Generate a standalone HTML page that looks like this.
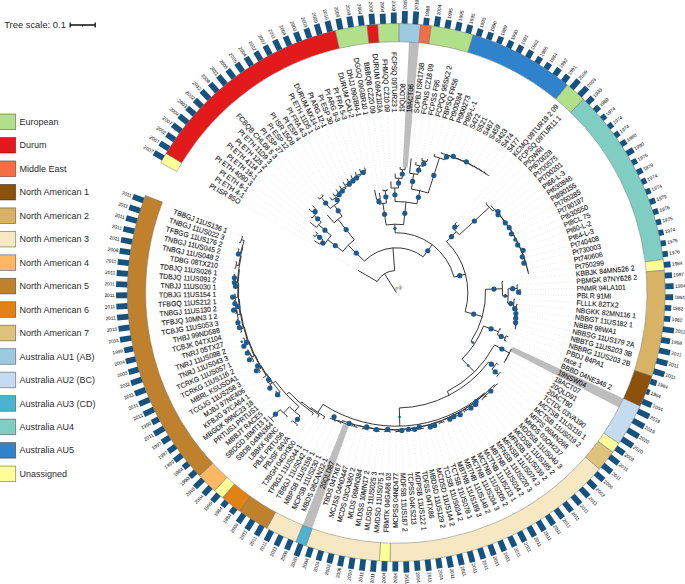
<!DOCTYPE html><html><head><meta charset="utf-8"><style>html,body{margin:0;padding:0;background:#fff;width:685px;height:584px;overflow:hidden}svg{display:block}</style></head><body><svg width="685" height="584" viewBox="0 0 685 584">
<path d="M356.90,269.75L241.71,203.25M313.03,239.88L245.40,197.15M311.90,234.33L249.33,191.20M314.29,231.01L253.49,185.42M309.06,221.47L257.87,179.80M309.71,216.06L262.48,174.37M307.77,207.83L267.31,169.12M311.22,204.36L272.33,164.07M326.12,213.73L277.56,159.22M317.26,196.31L282.97,154.59M321.16,193.23L288.57,150.18M329.18,196.06L294.33,145.99M332.22,192.11L300.26,142.04M335.47,188.25L306.35,138.32M338.93,184.49L312.57,134.86M342.60,180.84L318.93,131.64M346.46,177.32L325.41,128.68M350.52,173.93L332.01,125.98M354.77,170.68L338.71,123.55M359.21,167.59L345.50,121.38M364.23,166.21L352.37,119.49M374.23,188.31L359.31,117.88M379.08,191.46L366.31,116.54M382.74,187.88L373.35,115.48M386.93,187.42L380.44,114.71M390.77,179.84L387.55,114.21M395.20,172.01L394.67,114.01M400.21,165.56L401.80,114.08M405.27,165.82L408.91,114.45M411.37,156.83L416.01,115.09M416.33,160.51L423.08,116.02M422.53,156.51L430.10,117.23M427.93,157.66L437.07,118.72M435.03,152.77L443.97,120.48M441.67,151.00L450.80,122.52M447.39,152.64L457.54,124.83M453.04,154.51L464.19,127.41M458.63,156.61L470.72,130.25M464.14,158.94L477.14,133.35M469.56,161.49L483.43,136.71M474.89,164.27L489.57,140.31M480.11,167.26L495.58,144.15M485.22,170.46L501.42,148.23M490.02,174.11L507.09,152.54M457.54,221.19L512.59,157.08M460.34,223.69L517.90,161.83M487.88,201.65L523.02,166.79M492.69,204.23L527.94,171.94M496.40,207.92L532.65,177.30M499.97,211.77L537.14,182.83M503.40,215.77L541.40,188.54M506.67,219.91L545.43,194.41M509.78,224.19L549.23,200.44M512.72,228.61L552.78,206.62M515.49,233.15L556.09,212.94M518.08,237.81L559.14,219.38M520.49,242.59L561.92,225.93M522.72,247.47L564.45,232.60M524.75,252.44L566.71,239.36M526.58,257.51L568.69,246.20M528.22,262.66L570.40,253.12M529.65,267.89L571.84,260.10M530.52,273.23L572.99,267.13M504.73,281.33L573.86,274.21M519.36,284.77L574.45,281.31M522.07,289.63L574.75,288.43M522.08,294.65L574.77,295.55M516.40,299.36L574.51,302.68M519.02,304.44L573.96,309.78M519.24,309.43L573.13,316.86M519.25,314.47L572.02,323.90M519.06,319.53L570.62,330.89M518.66,324.61L568.95,337.81M517.28,329.47L567.01,344.67M502.49,329.65L564.79,351.44M509.76,337.35L562.30,358.12M507.88,341.84L559.55,364.69M513.18,349.87L556.54,371.15M510.97,354.58L553.27,377.48M508.49,359.16L549.75,383.68M505.74,363.59L545.99,389.74M499.55,365.59L541.99,395.63M501.78,373.68L537.76,401.37M498.46,377.82L533.30,406.93M498.90,385.39L528.62,412.30M495.11,389.41L523.74,417.49M491.59,393.74L518.65,422.48M487.67,397.68L513.36,427.26M483.40,401.25L507.89,431.82M478.83,404.42L502.24,436.16M474.30,407.63L496.42,440.28M469.81,410.93L490.44,444.16M465.03,413.77L484.31,447.79M460.42,416.97L478.04,451.18M455.53,419.71L471.65,454.32M450.40,421.97L465.13,457.20M445.10,423.77L458.50,459.81M439.82,425.62L451.77,462.16M434.56,427.56L444.95,464.24M429.14,428.98L438.06,466.05M423.73,430.51L431.10,467.58M418.20,431.50L424.08,468.82M412.67,432.59L417.02,469.79M407.07,433.13L409.93,470.48M401.46,433.78L402.81,470.88M395.82,433.87L395.69,471.00M390.16,434.07L388.56,470.83M384.51,433.71L381.45,470.38M378.85,433.45L374.36,469.65M373.23,432.64L367.31,468.63M367.59,431.94L360.30,467.33M362.05,430.68L353.35,465.76M356.47,429.52L346.47,463.90M351.03,427.82L339.67,461.78M345.42,426.56L332.96,459.38M339.87,424.97L326.35,456.72M334.50,422.89L319.85,453.80M329.35,420.32L313.47,450.62M322.70,420.32L307.23,447.19M316.85,418.55L301.12,443.51M311.03,416.52L295.17,439.59M295.67,427.03L289.38,435.44M290.38,422.90L283.76,431.05M285.39,418.42L278.32,426.45M271.69,423.08L273.07,421.64M266.57,418.00L268.01,416.61M278.30,397.87L263.16,411.39M274.19,393.08L258.52,405.98M269.71,388.55L254.10,400.39M265.98,383.42L249.91,394.63M261.87,378.52L245.95,388.71M257.94,373.44L242.23,382.63M254.82,367.85L238.75,376.41M251.02,362.58L235.53,370.05M248.06,356.84L232.56,363.57M245.61,350.88L229.85,356.98M243.31,344.85L227.41,350.29M241.34,338.70L225.24,343.50M238.94,332.65L223.34,336.63M237.46,326.34L221.72,329.69M235.25,320.14L220.37,322.69M233.98,313.73L219.31,315.65M233.26,307.23L218.52,308.56M232.71,300.72L218.02,301.46M232.51,294.18L217.81,294.33M231.57,287.61L217.88,287.21M231.60,281.02L218.23,280.09M232.19,274.46L218.87,272.99M232.94,267.90L219.79,265.92M234.05,261.40L220.99,258.90M234.74,254.79L222.47,251.93M236.38,248.37L224.23,245.02M237.88,241.90L226.26,238.19M240.03,235.62L228.56,231.45" stroke="#cccccc" stroke-width="0.6" stroke-dasharray="0.6,2.0" fill="none"/>
<path d="M402.67,167.16L409.02,42.12A250.7,250.7 0 0 1 419.00,42.83L407.67,167.52Z" fill="#bdbdbd"/>
<path d="M512.94,346.89L623.51,398.45A250.7,250.7 0 0 1 619.10,407.44L510.68,351.50Z" fill="#bdbdbd"/>
<path d="M348.61,426.13L312.04,528.61A250.7,250.7 0 0 1 302.68,525.06L343.31,424.12Z" fill="#bdbdbd"/>
<path d="M160.70,162.68A269.0,269.0 0 0 1 166.07,153.38L181.73,162.84A250.7,250.7 0 0 0 176.73,171.51Z" fill="#FFFF99" stroke="#6b6b6b" stroke-width="0.45"/>
<path d="M166.07,153.38A269.0,269.0 0 0 1 335.31,30.51L339.46,48.33A250.7,250.7 0 0 0 181.73,162.84Z" fill="#E31A1C" stroke="#6b6b6b" stroke-width="0.45"/>
<path d="M335.31,30.51A269.0,269.0 0 0 1 367.05,25.09L369.04,43.29A250.7,250.7 0 0 0 339.46,48.33Z" fill="#B2DF8A" stroke="#6b6b6b" stroke-width="0.45"/>
<path d="M367.05,25.09A269.0,269.0 0 0 1 377.75,24.14L379.01,42.40A250.7,250.7 0 0 0 369.04,43.29Z" fill="#E31A1C" stroke="#6b6b6b" stroke-width="0.45"/>
<path d="M377.75,24.14A269.0,269.0 0 0 1 399.22,23.52L399.02,41.81A250.7,250.7 0 0 0 379.01,42.40Z" fill="#B2DF8A" stroke="#6b6b6b" stroke-width="0.45"/>
<path d="M399.22,23.52A269.0,269.0 0 0 1 420.66,24.61L419.00,42.83A250.7,250.7 0 0 0 399.02,41.81Z" fill="#9ECAE1" stroke="#6b6b6b" stroke-width="0.45"/>
<path d="M420.66,24.61A269.0,269.0 0 0 1 431.34,25.79L428.95,43.94A250.7,250.7 0 0 0 419.00,42.83Z" fill="#F46D43" stroke="#6b6b6b" stroke-width="0.45"/>
<path d="M431.34,25.79A269.0,269.0 0 0 1 473.30,34.76L468.06,52.29A250.7,250.7 0 0 0 428.95,43.94Z" fill="#B2DF8A" stroke="#6b6b6b" stroke-width="0.45"/>
<path d="M473.30,34.76A269.0,269.0 0 0 1 567.44,84.96L555.80,99.08A250.7,250.7 0 0 0 468.06,52.29Z" fill="#2E83CC" stroke="#6b6b6b" stroke-width="0.45"/>
<path d="M567.44,84.96A269.0,269.0 0 0 1 583.45,99.27L570.72,112.42A250.7,250.7 0 0 0 555.80,99.08Z" fill="#B2DF8A" stroke="#6b6b6b" stroke-width="0.45"/>
<path d="M583.45,99.27A269.0,269.0 0 0 1 663.28,259.60L645.12,261.83A250.7,250.7 0 0 0 570.72,112.42Z" fill="#80CDC1" stroke="#6b6b6b" stroke-width="0.45"/>
<path d="M663.28,259.60A269.0,269.0 0 0 1 664.38,270.28L646.14,271.79A250.7,250.7 0 0 0 645.12,261.83Z" fill="#FFFF99" stroke="#6b6b6b" stroke-width="0.45"/>
<path d="M664.38,270.28A269.0,269.0 0 0 1 651.93,376.24L634.54,370.54A250.7,250.7 0 0 0 646.14,271.79Z" fill="#D8B365" stroke="#6b6b6b" stroke-width="0.45"/>
<path d="M651.93,376.24A269.0,269.0 0 0 1 640.10,406.18L623.51,398.45A250.7,250.7 0 0 0 634.54,370.54Z" fill="#8C510A" stroke="#6b6b6b" stroke-width="0.45"/>
<path d="M640.10,406.18A269.0,269.0 0 0 1 618.92,443.51L603.77,433.23A250.7,250.7 0 0 0 623.51,398.45Z" fill="#C6DBEF" stroke="#6b6b6b" stroke-width="0.45"/>
<path d="M618.92,443.51A269.0,269.0 0 0 1 612.71,452.27L597.99,441.40A250.7,250.7 0 0 0 603.77,433.23Z" fill="#FFFF99" stroke="#6b6b6b" stroke-width="0.45"/>
<path d="M612.71,452.27A269.0,269.0 0 0 1 599.28,469.03L585.47,457.02A250.7,250.7 0 0 0 597.99,441.40Z" fill="#DFC27D" stroke="#6b6b6b" stroke-width="0.45"/>
<path d="M599.28,469.03A269.0,269.0 0 0 1 390.01,561.43L390.44,543.13A250.7,250.7 0 0 0 585.47,457.02Z" fill="#F6E8C3" stroke="#6b6b6b" stroke-width="0.45"/>
<path d="M390.01,561.43A269.0,269.0 0 0 1 379.28,560.96L380.44,542.70A250.7,250.7 0 0 0 390.44,543.13Z" fill="#FFFF99" stroke="#6b6b6b" stroke-width="0.45"/>
<path d="M379.28,560.96A269.0,269.0 0 0 1 305.88,545.85L312.04,528.61A250.7,250.7 0 0 0 380.44,542.70Z" fill="#F6E8C3" stroke="#6b6b6b" stroke-width="0.45"/>
<path d="M305.88,545.85A269.0,269.0 0 0 1 295.84,542.04L302.68,525.06A250.7,250.7 0 0 0 312.04,528.61Z" fill="#4EB3D3" stroke="#6b6b6b" stroke-width="0.45"/>
<path d="M295.84,542.04A269.0,269.0 0 0 1 266.75,528.25L275.56,512.21A250.7,250.7 0 0 0 302.68,525.06Z" fill="#F6E8C3" stroke="#6b6b6b" stroke-width="0.45"/>
<path d="M266.75,528.25A269.0,269.0 0 0 1 239.50,511.08L250.17,496.21A250.7,250.7 0 0 0 275.56,512.21Z" fill="#BF812D" stroke="#6b6b6b" stroke-width="0.45"/>
<path d="M239.50,511.08A269.0,269.0 0 0 1 222.57,497.87L234.39,483.90A250.7,250.7 0 0 0 250.17,496.21Z" fill="#E08214" stroke="#6b6b6b" stroke-width="0.45"/>
<path d="M222.57,497.87A269.0,269.0 0 0 1 214.51,490.78L226.88,477.29A250.7,250.7 0 0 0 234.39,483.90Z" fill="#FFFF99" stroke="#6b6b6b" stroke-width="0.45"/>
<path d="M214.51,490.78A269.0,269.0 0 0 1 199.27,475.64L212.68,463.18A250.7,250.7 0 0 0 226.88,477.29Z" fill="#FDB863" stroke="#6b6b6b" stroke-width="0.45"/>
<path d="M199.27,475.64A269.0,269.0 0 0 1 145.41,195.47L162.48,202.07A250.7,250.7 0 0 0 212.68,463.18Z" fill="#BF812D" stroke="#6b6b6b" stroke-width="0.45"/>
<g fill="#17527f"><rect transform="rotate(210.000 396.3 292.5)" x="665.30" y="289.60" width="10.61" height="5.8"/><rect transform="rotate(212.288 396.3 292.5)" x="665.30" y="289.60" width="10.61" height="5.8"/><rect transform="rotate(214.575 396.3 292.5)" x="665.30" y="289.60" width="9.76" height="5.8"/><rect transform="rotate(216.863 396.3 292.5)" x="665.30" y="289.60" width="10.61" height="5.8"/><rect transform="rotate(219.150 396.3 292.5)" x="665.30" y="289.60" width="10.95" height="5.8"/><rect transform="rotate(221.438 396.3 292.5)" x="665.30" y="289.60" width="9.93" height="5.8"/><rect transform="rotate(223.725 396.3 292.5)" x="665.30" y="289.60" width="9.76" height="5.8"/><rect transform="rotate(226.013 396.3 292.5)" x="665.30" y="289.60" width="11.46" height="5.8"/><rect transform="rotate(228.301 396.3 292.5)" x="665.30" y="289.60" width="10.78" height="5.8"/><rect transform="rotate(230.588 396.3 292.5)" x="665.30" y="289.60" width="11.29" height="5.8"/><rect transform="rotate(232.876 396.3 292.5)" x="665.30" y="289.60" width="10.27" height="5.8"/><rect transform="rotate(235.163 396.3 292.5)" x="665.30" y="289.60" width="10.27" height="5.8"/><rect transform="rotate(237.451 396.3 292.5)" x="665.30" y="289.60" width="10.10" height="5.8"/><rect transform="rotate(239.739 396.3 292.5)" x="665.30" y="289.60" width="9.76" height="5.8"/><rect transform="rotate(242.026 396.3 292.5)" x="665.30" y="289.60" width="10.61" height="5.8"/><rect transform="rotate(244.314 396.3 292.5)" x="665.30" y="289.60" width="11.29" height="5.8"/><rect transform="rotate(246.601 396.3 292.5)" x="665.30" y="289.60" width="10.10" height="5.8"/><rect transform="rotate(248.889 396.3 292.5)" x="665.30" y="289.60" width="9.93" height="5.8"/><rect transform="rotate(251.176 396.3 292.5)" x="665.30" y="289.60" width="9.93" height="5.8"/><rect transform="rotate(253.464 396.3 292.5)" x="665.30" y="289.60" width="10.95" height="5.8"/><rect transform="rotate(255.752 396.3 292.5)" x="665.30" y="289.60" width="11.12" height="5.8"/><rect transform="rotate(258.039 396.3 292.5)" x="665.30" y="289.60" width="10.95" height="5.8"/><rect transform="rotate(260.327 396.3 292.5)" x="665.30" y="289.60" width="10.95" height="5.8"/><rect transform="rotate(262.614 396.3 292.5)" x="665.30" y="289.60" width="10.10" height="5.8"/><rect transform="rotate(264.902 396.3 292.5)" x="665.30" y="289.60" width="10.95" height="5.8"/><rect transform="rotate(267.190 396.3 292.5)" x="665.30" y="289.60" width="10.10" height="5.8"/><rect transform="rotate(269.477 396.3 292.5)" x="665.30" y="289.60" width="10.95" height="5.8"/><rect transform="rotate(271.765 396.3 292.5)" x="665.30" y="289.60" width="12.65" height="5.8"/><rect transform="rotate(274.052 396.3 292.5)" x="665.30" y="289.60" width="12.65" height="5.8"/><rect transform="rotate(276.340 396.3 292.5)" x="665.30" y="289.60" width="7.38" height="5.8"/><rect transform="rotate(278.627 396.3 292.5)" x="665.30" y="289.60" width="10.10" height="5.8"/><rect transform="rotate(280.915 396.3 292.5)" x="665.30" y="289.60" width="8.57" height="5.8"/><rect transform="rotate(283.203 396.3 292.5)" x="665.30" y="289.60" width="8.57" height="5.8"/><rect transform="rotate(285.490 396.3 292.5)" x="665.30" y="289.60" width="8.57" height="5.8"/><rect transform="rotate(287.778 396.3 292.5)" x="665.30" y="289.60" width="7.72" height="5.8"/><rect transform="rotate(290.065 396.3 292.5)" x="665.30" y="289.60" width="7.72" height="5.8"/><rect transform="rotate(292.353 396.3 292.5)" x="665.30" y="289.60" width="7.55" height="5.8"/><rect transform="rotate(294.641 396.3 292.5)" x="665.30" y="289.60" width="7.72" height="5.8"/><rect transform="rotate(296.928 396.3 292.5)" x="665.30" y="289.60" width="7.89" height="5.8"/><rect transform="rotate(299.216 396.3 292.5)" x="665.30" y="289.60" width="8.06" height="5.8"/><rect transform="rotate(301.503 396.3 292.5)" x="665.30" y="289.60" width="7.04" height="5.8"/><rect transform="rotate(303.791 396.3 292.5)" x="665.30" y="289.60" width="6.70" height="5.8"/><rect transform="rotate(306.078 396.3 292.5)" x="665.30" y="289.60" width="8.06" height="5.8"/><rect transform="rotate(308.366 396.3 292.5)" x="665.30" y="289.60" width="7.89" height="5.8"/><rect transform="rotate(310.654 396.3 292.5)" x="665.30" y="289.60" width="10.95" height="5.8"/><rect transform="rotate(312.941 396.3 292.5)" x="665.30" y="289.60" width="10.95" height="5.8"/><rect transform="rotate(315.229 396.3 292.5)" x="665.30" y="289.60" width="7.72" height="5.8"/><rect transform="rotate(317.516 396.3 292.5)" x="665.30" y="289.60" width="6.02" height="5.8"/><rect transform="rotate(319.804 396.3 292.5)" x="665.30" y="289.60" width="5.00" height="5.8"/><rect transform="rotate(322.092 396.3 292.5)" x="665.30" y="289.60" width="5.00" height="5.8"/><rect transform="rotate(324.379 396.3 292.5)" x="665.30" y="289.60" width="5.00" height="5.8"/><rect transform="rotate(326.667 396.3 292.5)" x="665.30" y="289.60" width="6.02" height="5.8"/><rect transform="rotate(328.954 396.3 292.5)" x="665.30" y="289.60" width="7.72" height="5.8"/><rect transform="rotate(331.242 396.3 292.5)" x="665.30" y="289.60" width="5.34" height="5.8"/><rect transform="rotate(333.529 396.3 292.5)" x="665.30" y="289.60" width="5.85" height="5.8"/><rect transform="rotate(335.817 396.3 292.5)" x="665.30" y="289.60" width="5.00" height="5.8"/><rect transform="rotate(338.105 396.3 292.5)" x="665.30" y="289.60" width="5.00" height="5.8"/><rect transform="rotate(340.392 396.3 292.5)" x="665.30" y="289.60" width="5.85" height="5.8"/><rect transform="rotate(342.680 396.3 292.5)" x="665.30" y="289.60" width="5.34" height="5.8"/><rect transform="rotate(344.967 396.3 292.5)" x="665.30" y="289.60" width="5.17" height="5.8"/><rect transform="rotate(347.255 396.3 292.5)" x="665.30" y="289.60" width="5.00" height="5.8"/><rect transform="rotate(349.542 396.3 292.5)" x="665.30" y="289.60" width="5.17" height="5.8"/><rect transform="rotate(351.830 396.3 292.5)" x="665.30" y="289.60" width="5.34" height="5.8"/><rect transform="rotate(354.118 396.3 292.5)" x="665.30" y="289.60" width="6.70" height="5.8"/><rect transform="rotate(356.405 396.3 292.5)" x="665.30" y="289.60" width="7.21" height="5.8"/><rect transform="rotate(358.693 396.3 292.5)" x="665.30" y="289.60" width="8.40" height="5.8"/><rect transform="rotate(360.980 396.3 292.5)" x="665.30" y="289.60" width="7.89" height="5.8"/><rect transform="rotate(363.268 396.3 292.5)" x="665.30" y="289.60" width="6.36" height="5.8"/><rect transform="rotate(365.556 396.3 292.5)" x="665.30" y="289.60" width="6.36" height="5.8"/><rect transform="rotate(367.843 396.3 292.5)" x="665.30" y="289.60" width="11.29" height="5.8"/><rect transform="rotate(370.131 396.3 292.5)" x="665.30" y="289.60" width="9.08" height="5.8"/><rect transform="rotate(372.418 396.3 292.5)" x="665.30" y="289.60" width="11.29" height="5.8"/><rect transform="rotate(374.706 396.3 292.5)" x="665.30" y="289.60" width="11.29" height="5.8"/><rect transform="rotate(376.993 396.3 292.5)" x="665.30" y="289.60" width="11.29" height="5.8"/><rect transform="rotate(379.281 396.3 292.5)" x="665.30" y="289.60" width="6.70" height="5.8"/><rect transform="rotate(381.569 396.3 292.5)" x="665.30" y="289.60" width="3.30" height="5.8"/><rect transform="rotate(383.856 396.3 292.5)" x="665.30" y="289.60" width="10.10" height="5.8"/><rect transform="rotate(386.144 396.3 292.5)" x="665.30" y="289.60" width="12.65" height="5.8"/><rect transform="rotate(388.431 396.3 292.5)" x="665.30" y="289.60" width="12.65" height="5.8"/><rect transform="rotate(390.719 396.3 292.5)" x="665.30" y="289.60" width="12.82" height="5.8"/><rect transform="rotate(393.007 396.3 292.5)" x="665.30" y="289.60" width="12.82" height="5.8"/><rect transform="rotate(395.294 396.3 292.5)" x="665.30" y="289.60" width="9.93" height="5.8"/><rect transform="rotate(397.582 396.3 292.5)" x="665.30" y="289.60" width="11.29" height="5.8"/><rect transform="rotate(399.869 396.3 292.5)" x="665.30" y="289.60" width="11.29" height="5.8"/><rect transform="rotate(402.157 396.3 292.5)" x="665.30" y="289.60" width="10.44" height="5.8"/><rect transform="rotate(404.444 396.3 292.5)" x="665.30" y="289.60" width="9.93" height="5.8"/><rect transform="rotate(406.732 396.3 292.5)" x="665.30" y="289.60" width="11.29" height="5.8"/><rect transform="rotate(409.020 396.3 292.5)" x="665.30" y="289.60" width="11.29" height="5.8"/><rect transform="rotate(411.307 396.3 292.5)" x="665.30" y="289.60" width="11.29" height="5.8"/><rect transform="rotate(413.595 396.3 292.5)" x="665.30" y="289.60" width="11.29" height="5.8"/><rect transform="rotate(415.882 396.3 292.5)" x="665.30" y="289.60" width="11.29" height="5.8"/><rect transform="rotate(418.170 396.3 292.5)" x="665.30" y="289.60" width="11.29" height="5.8"/><rect transform="rotate(420.458 396.3 292.5)" x="665.30" y="289.60" width="11.29" height="5.8"/><rect transform="rotate(422.745 396.3 292.5)" x="665.30" y="289.60" width="11.29" height="5.8"/><rect transform="rotate(425.033 396.3 292.5)" x="665.30" y="289.60" width="11.29" height="5.8"/><rect transform="rotate(427.320 396.3 292.5)" x="665.30" y="289.60" width="11.29" height="5.8"/><rect transform="rotate(429.608 396.3 292.5)" x="665.30" y="289.60" width="11.29" height="5.8"/><rect transform="rotate(431.895 396.3 292.5)" x="665.30" y="289.60" width="11.29" height="5.8"/><rect transform="rotate(434.183 396.3 292.5)" x="665.30" y="289.60" width="11.29" height="5.8"/><rect transform="rotate(436.471 396.3 292.5)" x="665.30" y="289.60" width="11.29" height="5.8"/><rect transform="rotate(438.758 396.3 292.5)" x="665.30" y="289.60" width="11.29" height="5.8"/><rect transform="rotate(441.046 396.3 292.5)" x="665.30" y="289.60" width="10.10" height="5.8"/><rect transform="rotate(443.333 396.3 292.5)" x="665.30" y="289.60" width="11.29" height="5.8"/><rect transform="rotate(445.621 396.3 292.5)" x="665.30" y="289.60" width="10.10" height="5.8"/><rect transform="rotate(447.908 396.3 292.5)" x="665.30" y="289.60" width="11.29" height="5.8"/><rect transform="rotate(450.196 396.3 292.5)" x="665.30" y="289.60" width="10.10" height="5.8"/><rect transform="rotate(452.484 396.3 292.5)" x="665.30" y="289.60" width="10.10" height="5.8"/><rect transform="rotate(454.771 396.3 292.5)" x="665.30" y="289.60" width="11.29" height="5.8"/><rect transform="rotate(457.059 396.3 292.5)" x="665.30" y="289.60" width="11.29" height="5.8"/><rect transform="rotate(459.346 396.3 292.5)" x="665.30" y="289.60" width="11.12" height="5.8"/><rect transform="rotate(461.634 396.3 292.5)" x="665.30" y="289.60" width="10.44" height="5.8"/><rect transform="rotate(463.922 396.3 292.5)" x="665.30" y="289.60" width="9.93" height="5.8"/><rect transform="rotate(466.209 396.3 292.5)" x="665.30" y="289.60" width="10.10" height="5.8"/><rect transform="rotate(468.497 396.3 292.5)" x="665.30" y="289.60" width="10.10" height="5.8"/><rect transform="rotate(470.784 396.3 292.5)" x="665.30" y="289.60" width="12.82" height="5.8"/><rect transform="rotate(473.072 396.3 292.5)" x="665.30" y="289.60" width="10.44" height="5.8"/><rect transform="rotate(475.359 396.3 292.5)" x="665.30" y="289.60" width="11.29" height="5.8"/><rect transform="rotate(477.647 396.3 292.5)" x="665.30" y="289.60" width="11.29" height="5.8"/><rect transform="rotate(479.935 396.3 292.5)" x="665.30" y="289.60" width="11.29" height="5.8"/><rect transform="rotate(482.222 396.3 292.5)" x="665.30" y="289.60" width="11.29" height="5.8"/><rect transform="rotate(484.510 396.3 292.5)" x="665.30" y="289.60" width="10.10" height="5.8"/><rect transform="rotate(486.797 396.3 292.5)" x="665.30" y="289.60" width="6.70" height="5.8"/><rect transform="rotate(489.085 396.3 292.5)" x="665.30" y="289.60" width="6.70" height="5.8"/><rect transform="rotate(491.373 396.3 292.5)" x="665.30" y="289.60" width="9.25" height="5.8"/><rect transform="rotate(493.660 396.3 292.5)" x="665.30" y="289.60" width="10.10" height="5.8"/><rect transform="rotate(495.948 396.3 292.5)" x="665.30" y="289.60" width="11.12" height="5.8"/><rect transform="rotate(498.235 396.3 292.5)" x="665.30" y="289.60" width="7.72" height="5.8"/><rect transform="rotate(500.523 396.3 292.5)" x="665.30" y="289.60" width="6.70" height="5.8"/><rect transform="rotate(502.810 396.3 292.5)" x="665.30" y="289.60" width="9.25" height="5.8"/><rect transform="rotate(505.098 396.3 292.5)" x="665.30" y="289.60" width="8.91" height="5.8"/><rect transform="rotate(507.386 396.3 292.5)" x="665.30" y="289.60" width="8.91" height="5.8"/><rect transform="rotate(509.673 396.3 292.5)" x="665.30" y="289.60" width="11.29" height="5.8"/><rect transform="rotate(511.961 396.3 292.5)" x="665.30" y="289.60" width="7.72" height="5.8"/><rect transform="rotate(514.248 396.3 292.5)" x="665.30" y="289.60" width="11.29" height="5.8"/><rect transform="rotate(516.536 396.3 292.5)" x="665.30" y="289.60" width="11.29" height="5.8"/><rect transform="rotate(518.824 396.3 292.5)" x="665.30" y="289.60" width="11.29" height="5.8"/><rect transform="rotate(521.111 396.3 292.5)" x="665.30" y="289.60" width="11.29" height="5.8"/><rect transform="rotate(523.399 396.3 292.5)" x="665.30" y="289.60" width="10.27" height="5.8"/><rect transform="rotate(525.686 396.3 292.5)" x="665.30" y="289.60" width="10.10" height="5.8"/><rect transform="rotate(527.974 396.3 292.5)" x="665.30" y="289.60" width="9.25" height="5.8"/><rect transform="rotate(530.261 396.3 292.5)" x="665.30" y="289.60" width="11.29" height="5.8"/><rect transform="rotate(532.549 396.3 292.5)" x="665.30" y="289.60" width="11.12" height="5.8"/><rect transform="rotate(534.837 396.3 292.5)" x="665.30" y="289.60" width="11.29" height="5.8"/><rect transform="rotate(537.124 396.3 292.5)" x="665.30" y="289.60" width="11.29" height="5.8"/><rect transform="rotate(539.412 396.3 292.5)" x="665.30" y="289.60" width="11.29" height="5.8"/><rect transform="rotate(541.699 396.3 292.5)" x="665.30" y="289.60" width="11.29" height="5.8"/><rect transform="rotate(543.987 396.3 292.5)" x="665.30" y="289.60" width="11.29" height="5.8"/><rect transform="rotate(546.275 396.3 292.5)" x="665.30" y="289.60" width="11.29" height="5.8"/><rect transform="rotate(548.562 396.3 292.5)" x="665.30" y="289.60" width="10.78" height="5.8"/><rect transform="rotate(550.850 396.3 292.5)" x="665.30" y="289.60" width="11.29" height="5.8"/><rect transform="rotate(553.137 396.3 292.5)" x="665.30" y="289.60" width="11.29" height="5.8"/><rect transform="rotate(555.425 396.3 292.5)" x="665.30" y="289.60" width="11.29" height="5.8"/><rect transform="rotate(557.712 396.3 292.5)" x="665.30" y="289.60" width="11.29" height="5.8"/><rect transform="rotate(560.000 396.3 292.5)" x="665.30" y="289.60" width="11.29" height="5.8"/></g>
<g font-family="Liberation Sans, sans-serif" font-size="4.8" fill="#2a2a2a" stroke="#2a2a2a" stroke-width="0.05"><text transform="rotate(390.000 396.3 292.5)" x="115.39" y="294.10" text-anchor="end">2007</text><text transform="rotate(392.288 396.3 292.5)" x="115.39" y="294.10" text-anchor="end">2007</text><text transform="rotate(394.575 396.3 292.5)" x="116.24" y="294.10" text-anchor="end">2002</text><text transform="rotate(396.863 396.3 292.5)" x="115.39" y="294.10" text-anchor="end">2007</text><text transform="rotate(399.150 396.3 292.5)" x="115.05" y="294.10" text-anchor="end">2009</text><text transform="rotate(401.438 396.3 292.5)" x="116.07" y="294.10" text-anchor="end">2003</text><text transform="rotate(403.725 396.3 292.5)" x="116.24" y="294.10" text-anchor="end">2002</text><text transform="rotate(406.013 396.3 292.5)" x="114.54" y="294.10" text-anchor="end">2012</text><text transform="rotate(408.301 396.3 292.5)" x="115.22" y="294.10" text-anchor="end">2008</text><text transform="rotate(410.588 396.3 292.5)" x="114.71" y="294.10" text-anchor="end">2011</text><text transform="rotate(412.876 396.3 292.5)" x="115.73" y="294.10" text-anchor="end">2005</text><text transform="rotate(415.163 396.3 292.5)" x="115.73" y="294.10" text-anchor="end">2005</text><text transform="rotate(417.451 396.3 292.5)" x="115.90" y="294.10" text-anchor="end">2004</text><text transform="rotate(419.739 396.3 292.5)" x="116.24" y="294.10" text-anchor="end">2002</text><text transform="rotate(422.026 396.3 292.5)" x="115.39" y="294.10" text-anchor="end">2007</text><text transform="rotate(424.314 396.3 292.5)" x="114.71" y="294.10" text-anchor="end">2011</text><text transform="rotate(426.601 396.3 292.5)" x="115.90" y="294.10" text-anchor="end">2004</text><text transform="rotate(428.889 396.3 292.5)" x="116.07" y="294.10" text-anchor="end">2003</text><text transform="rotate(431.176 396.3 292.5)" x="116.07" y="294.10" text-anchor="end">2003</text><text transform="rotate(433.464 396.3 292.5)" x="115.05" y="294.10" text-anchor="end">2009</text><text transform="rotate(435.752 396.3 292.5)" x="114.88" y="294.10" text-anchor="end">2010</text><text transform="rotate(438.039 396.3 292.5)" x="115.05" y="294.10" text-anchor="end">2009</text><text transform="rotate(440.327 396.3 292.5)" x="115.05" y="294.10" text-anchor="end">2009</text><text transform="rotate(442.614 396.3 292.5)" x="115.90" y="294.10" text-anchor="end">2004</text><text transform="rotate(444.902 396.3 292.5)" x="115.05" y="294.10" text-anchor="end">2009</text><text transform="rotate(447.190 396.3 292.5)" x="115.90" y="294.10" text-anchor="end">2004</text><text transform="rotate(449.477 396.3 292.5)" x="115.05" y="294.10" text-anchor="end">2009</text><text transform="rotate(271.765 396.3 292.5)" x="679.25" y="294.10">2019</text><text transform="rotate(274.052 396.3 292.5)" x="679.25" y="294.10">2019</text><text transform="rotate(276.340 396.3 292.5)" x="673.98" y="294.10">1988</text><text transform="rotate(278.627 396.3 292.5)" x="676.70" y="294.10">2004</text><text transform="rotate(280.915 396.3 292.5)" x="675.17" y="294.10">1995</text><text transform="rotate(283.203 396.3 292.5)" x="675.17" y="294.10">1995</text><text transform="rotate(285.490 396.3 292.5)" x="675.17" y="294.10">1995</text><text transform="rotate(287.778 396.3 292.5)" x="674.32" y="294.10">1990</text><text transform="rotate(290.065 396.3 292.5)" x="674.32" y="294.10">1990</text><text transform="rotate(292.353 396.3 292.5)" x="674.15" y="294.10">1989</text><text transform="rotate(294.641 396.3 292.5)" x="674.32" y="294.10">1990</text><text transform="rotate(296.928 396.3 292.5)" x="674.49" y="294.10">1991</text><text transform="rotate(299.216 396.3 292.5)" x="674.66" y="294.10">1992</text><text transform="rotate(301.503 396.3 292.5)" x="673.64" y="294.10">1986</text><text transform="rotate(303.791 396.3 292.5)" x="673.30" y="294.10">1984</text><text transform="rotate(306.078 396.3 292.5)" x="674.66" y="294.10">1992</text><text transform="rotate(308.366 396.3 292.5)" x="674.49" y="294.10">1991</text><text transform="rotate(310.654 396.3 292.5)" x="677.55" y="294.10">2009</text><text transform="rotate(312.941 396.3 292.5)" x="677.55" y="294.10">2009</text><text transform="rotate(315.229 396.3 292.5)" x="674.32" y="294.10">1990</text><text transform="rotate(317.516 396.3 292.5)" x="672.62" y="294.10">1980</text><text transform="rotate(319.804 396.3 292.5)" x="671.60" y="294.10">1974</text><text transform="rotate(322.092 396.3 292.5)" x="671.60" y="294.10">1974</text><text transform="rotate(324.379 396.3 292.5)" x="671.60" y="294.10">1974</text><text transform="rotate(326.667 396.3 292.5)" x="672.62" y="294.10">1980</text><text transform="rotate(328.954 396.3 292.5)" x="674.32" y="294.10">1990</text><text transform="rotate(331.242 396.3 292.5)" x="671.94" y="294.10">1976</text><text transform="rotate(333.529 396.3 292.5)" x="672.45" y="294.10">1979</text><text transform="rotate(335.817 396.3 292.5)" x="671.60" y="294.10">1974</text><text transform="rotate(338.105 396.3 292.5)" x="671.60" y="294.10">1974</text><text transform="rotate(340.392 396.3 292.5)" x="672.45" y="294.10">1979</text><text transform="rotate(342.680 396.3 292.5)" x="671.94" y="294.10">1976</text><text transform="rotate(344.967 396.3 292.5)" x="671.77" y="294.10">1975</text><text transform="rotate(347.255 396.3 292.5)" x="671.60" y="294.10">1974</text><text transform="rotate(349.542 396.3 292.5)" x="671.77" y="294.10">1975</text><text transform="rotate(351.830 396.3 292.5)" x="671.94" y="294.10">1976</text><text transform="rotate(354.118 396.3 292.5)" x="673.30" y="294.10">1984</text><text transform="rotate(356.405 396.3 292.5)" x="673.81" y="294.10">1987</text><text transform="rotate(358.693 396.3 292.5)" x="675.00" y="294.10">1994</text><text transform="rotate(360.980 396.3 292.5)" x="674.49" y="294.10">1991</text><text transform="rotate(363.268 396.3 292.5)" x="672.96" y="294.10">1982</text><text transform="rotate(365.556 396.3 292.5)" x="672.96" y="294.10">1982</text><text transform="rotate(367.843 396.3 292.5)" x="677.89" y="294.10">2011</text><text transform="rotate(370.131 396.3 292.5)" x="675.68" y="294.10">1998</text><text transform="rotate(372.418 396.3 292.5)" x="677.89" y="294.10">2011</text><text transform="rotate(374.706 396.3 292.5)" x="677.89" y="294.10">2011</text><text transform="rotate(376.993 396.3 292.5)" x="677.89" y="294.10">2011</text><text transform="rotate(379.281 396.3 292.5)" x="673.30" y="294.10">1984</text><text transform="rotate(381.569 396.3 292.5)" x="669.90" y="294.10">1964</text><text transform="rotate(383.856 396.3 292.5)" x="676.70" y="294.10">2004</text><text transform="rotate(386.144 396.3 292.5)" x="679.25" y="294.10">2019</text><text transform="rotate(388.431 396.3 292.5)" x="679.25" y="294.10">2019</text><text transform="rotate(390.719 396.3 292.5)" x="679.42" y="294.10">2020</text><text transform="rotate(393.007 396.3 292.5)" x="679.42" y="294.10">2020</text><text transform="rotate(395.294 396.3 292.5)" x="676.53" y="294.10">2003</text><text transform="rotate(397.582 396.3 292.5)" x="677.89" y="294.10">2011</text><text transform="rotate(399.869 396.3 292.5)" x="677.89" y="294.10">2011</text><text transform="rotate(402.157 396.3 292.5)" x="677.04" y="294.10">2006</text><text transform="rotate(404.444 396.3 292.5)" x="676.53" y="294.10">2003</text><text transform="rotate(406.732 396.3 292.5)" x="677.89" y="294.10">2011</text><text transform="rotate(409.020 396.3 292.5)" x="677.89" y="294.10">2011</text><text transform="rotate(411.307 396.3 292.5)" x="677.89" y="294.10">2011</text><text transform="rotate(413.595 396.3 292.5)" x="677.89" y="294.10">2011</text><text transform="rotate(415.882 396.3 292.5)" x="677.89" y="294.10">2011</text><text transform="rotate(418.170 396.3 292.5)" x="677.89" y="294.10">2011</text><text transform="rotate(420.458 396.3 292.5)" x="677.89" y="294.10">2011</text><text transform="rotate(422.745 396.3 292.5)" x="677.89" y="294.10">2011</text><text transform="rotate(425.033 396.3 292.5)" x="677.89" y="294.10">2011</text><text transform="rotate(427.320 396.3 292.5)" x="677.89" y="294.10">2011</text><text transform="rotate(429.608 396.3 292.5)" x="677.89" y="294.10">2011</text><text transform="rotate(431.895 396.3 292.5)" x="677.89" y="294.10">2011</text><text transform="rotate(434.183 396.3 292.5)" x="677.89" y="294.10">2011</text><text transform="rotate(436.471 396.3 292.5)" x="677.89" y="294.10">2011</text><text transform="rotate(438.758 396.3 292.5)" x="677.89" y="294.10">2011</text><text transform="rotate(441.046 396.3 292.5)" x="676.70" y="294.10">2004</text><text transform="rotate(443.333 396.3 292.5)" x="677.89" y="294.10">2011</text><text transform="rotate(445.621 396.3 292.5)" x="676.70" y="294.10">2004</text><text transform="rotate(447.908 396.3 292.5)" x="677.89" y="294.10">2011</text><text transform="rotate(630.196 396.3 292.5)" x="115.90" y="294.10" text-anchor="end">2004</text><text transform="rotate(632.484 396.3 292.5)" x="115.90" y="294.10" text-anchor="end">2004</text><text transform="rotate(634.771 396.3 292.5)" x="114.71" y="294.10" text-anchor="end">2011</text><text transform="rotate(637.059 396.3 292.5)" x="114.71" y="294.10" text-anchor="end">2011</text><text transform="rotate(639.346 396.3 292.5)" x="114.88" y="294.10" text-anchor="end">2010</text><text transform="rotate(641.634 396.3 292.5)" x="115.56" y="294.10" text-anchor="end">2006</text><text transform="rotate(643.922 396.3 292.5)" x="116.07" y="294.10" text-anchor="end">2003</text><text transform="rotate(646.209 396.3 292.5)" x="115.90" y="294.10" text-anchor="end">2004</text><text transform="rotate(648.497 396.3 292.5)" x="115.90" y="294.10" text-anchor="end">2004</text><text transform="rotate(650.784 396.3 292.5)" x="113.18" y="294.10" text-anchor="end">2020</text><text transform="rotate(653.072 396.3 292.5)" x="115.56" y="294.10" text-anchor="end">2006</text><text transform="rotate(655.359 396.3 292.5)" x="114.71" y="294.10" text-anchor="end">2011</text><text transform="rotate(657.647 396.3 292.5)" x="114.71" y="294.10" text-anchor="end">2011</text><text transform="rotate(659.935 396.3 292.5)" x="114.71" y="294.10" text-anchor="end">2011</text><text transform="rotate(662.222 396.3 292.5)" x="114.71" y="294.10" text-anchor="end">2011</text><text transform="rotate(664.510 396.3 292.5)" x="115.90" y="294.10" text-anchor="end">2004</text><text transform="rotate(666.797 396.3 292.5)" x="119.30" y="294.10" text-anchor="end">1984</text><text transform="rotate(669.085 396.3 292.5)" x="119.30" y="294.10" text-anchor="end">1984</text><text transform="rotate(671.373 396.3 292.5)" x="116.75" y="294.10" text-anchor="end">1999</text><text transform="rotate(673.660 396.3 292.5)" x="115.90" y="294.10" text-anchor="end">2004</text><text transform="rotate(675.948 396.3 292.5)" x="114.88" y="294.10" text-anchor="end">2010</text><text transform="rotate(678.235 396.3 292.5)" x="118.28" y="294.10" text-anchor="end">1990</text><text transform="rotate(680.523 396.3 292.5)" x="119.30" y="294.10" text-anchor="end">1984</text><text transform="rotate(682.810 396.3 292.5)" x="116.75" y="294.10" text-anchor="end">1999</text><text transform="rotate(685.098 396.3 292.5)" x="117.09" y="294.10" text-anchor="end">1997</text><text transform="rotate(687.386 396.3 292.5)" x="117.09" y="294.10" text-anchor="end">1997</text><text transform="rotate(689.673 396.3 292.5)" x="114.71" y="294.10" text-anchor="end">2011</text><text transform="rotate(691.961 396.3 292.5)" x="118.28" y="294.10" text-anchor="end">1990</text><text transform="rotate(694.248 396.3 292.5)" x="114.71" y="294.10" text-anchor="end">2011</text><text transform="rotate(696.536 396.3 292.5)" x="114.71" y="294.10" text-anchor="end">2011</text><text transform="rotate(698.824 396.3 292.5)" x="114.71" y="294.10" text-anchor="end">2011</text><text transform="rotate(701.111 396.3 292.5)" x="114.71" y="294.10" text-anchor="end">2011</text><text transform="rotate(703.399 396.3 292.5)" x="115.73" y="294.10" text-anchor="end">2005</text><text transform="rotate(705.686 396.3 292.5)" x="115.90" y="294.10" text-anchor="end">2004</text><text transform="rotate(707.974 396.3 292.5)" x="116.75" y="294.10" text-anchor="end">1999</text><text transform="rotate(710.261 396.3 292.5)" x="114.71" y="294.10" text-anchor="end">2011</text><text transform="rotate(712.549 396.3 292.5)" x="114.88" y="294.10" text-anchor="end">2010</text><text transform="rotate(714.837 396.3 292.5)" x="114.71" y="294.10" text-anchor="end">2011</text><text transform="rotate(717.124 396.3 292.5)" x="114.71" y="294.10" text-anchor="end">2011</text><text transform="rotate(719.412 396.3 292.5)" x="114.71" y="294.10" text-anchor="end">2011</text><text transform="rotate(721.699 396.3 292.5)" x="114.71" y="294.10" text-anchor="end">2011</text><text transform="rotate(723.987 396.3 292.5)" x="114.71" y="294.10" text-anchor="end">2011</text><text transform="rotate(726.275 396.3 292.5)" x="114.71" y="294.10" text-anchor="end">2011</text><text transform="rotate(728.562 396.3 292.5)" x="115.22" y="294.10" text-anchor="end">2008</text><text transform="rotate(730.850 396.3 292.5)" x="114.71" y="294.10" text-anchor="end">2011</text><text transform="rotate(733.137 396.3 292.5)" x="114.71" y="294.10" text-anchor="end">2011</text><text transform="rotate(735.425 396.3 292.5)" x="114.71" y="294.10" text-anchor="end">2011</text><text transform="rotate(737.712 396.3 292.5)" x="114.71" y="294.10" text-anchor="end">2011</text><text transform="rotate(740.000 396.3 292.5)" x="114.71" y="294.10" text-anchor="end">2011</text></g>
<g font-family="Liberation Sans, sans-serif" font-size="7.2" fill="#1a1a1a" stroke="#1a1a1a" stroke-width="0.12"><text transform="rotate(390.000 396.3 292.5) translate(215.80 295.00) scale(0.95 1)" text-anchor="end">Pt ISR 85O</text><text transform="rotate(392.288 396.3 292.5) translate(215.80 295.00) scale(0.95 1)" text-anchor="end">Pt ETH 4-<tspan letter-spacing="-0.45">1</tspan></text><text transform="rotate(394.575 396.3 292.5) translate(215.80 295.00) scale(0.95 1)" text-anchor="end">Pt ETH 6-<tspan letter-spacing="-0.45">1</tspan></text><text transform="rotate(396.863 396.3 292.5) translate(215.80 295.00) scale(0.95 1)" text-anchor="end">Pt ETH 4090 3</text><text transform="rotate(399.150 396.3 292.5) translate(215.80 295.00) scale(0.95 1)" text-anchor="end">Pt ETH <tspan letter-spacing="-0.45">1</tspan>6-<tspan letter-spacing="-0.45">1</tspan></text><text transform="rotate(401.438 396.3 292.5) translate(215.80 295.00) scale(0.95 1)" text-anchor="end">Pt ETH 4<tspan letter-spacing="-0.45">1</tspan><tspan letter-spacing="-0.45">1</tspan>4 7</text><text transform="rotate(403.725 396.3 292.5) translate(215.80 295.00) scale(0.95 1)" text-anchor="end">Pt ETH <tspan letter-spacing="-0.45">1</tspan>25 2</text><text transform="rotate(406.013 396.3 292.5) translate(215.80 295.00) scale(0.95 1)" text-anchor="end">Pt ETH <tspan letter-spacing="-0.45">1</tspan><tspan letter-spacing="-0.45">1</tspan>D9 3</text><text transform="rotate(408.301 396.3 292.5) translate(215.80 295.00) scale(0.95 1)" text-anchor="end">FCBQB CHL08 5 3</text><text transform="rotate(410.588 396.3 292.5) translate(215.80 295.00) scale(0.95 1)" text-anchor="end">Pt ESP 27</text><text transform="rotate(412.876 396.3 292.5) translate(215.80 295.00) scale(0.95 1)" text-anchor="end">Pt ESP <tspan letter-spacing="-0.45">1</tspan>2</text><text transform="rotate(415.163 396.3 292.5) translate(215.80 295.00) scale(0.95 1)" text-anchor="end">Pt ISR <tspan letter-spacing="-0.45">1</tspan>5O8</text><text transform="rotate(417.451 396.3 292.5) translate(215.80 295.00) scale(0.95 1)" text-anchor="end">Pt ESP 4</text><text transform="rotate(419.739 396.3 292.5) translate(215.80 295.00) scale(0.95 1)" text-anchor="end">Pt FRA 4-3</text><text transform="rotate(422.026 396.3 292.5) translate(215.80 295.00) scale(0.95 1)" text-anchor="end">Pt ETH <tspan letter-spacing="-0.45">1</tspan><tspan letter-spacing="-0.45">1</tspan>D5 <tspan letter-spacing="-0.45">1</tspan></text><text transform="rotate(424.314 396.3 292.5) translate(215.80 295.00) scale(0.95 1)" text-anchor="end">DURUM MX<tspan letter-spacing="-0.45">1</tspan>4-3</text><text transform="rotate(426.601 396.3 292.5) translate(215.80 295.00) scale(0.95 1)" text-anchor="end">Pt ARG <tspan letter-spacing="-0.45">1</tspan>2-<tspan letter-spacing="-0.45">1</tspan></text><text transform="rotate(428.889 396.3 292.5) translate(215.80 295.00) scale(0.95 1)" text-anchor="end">Pt ESP 30</text><text transform="rotate(431.176 396.3 292.5) translate(215.80 295.00) scale(0.95 1)" text-anchor="end">Pt ARG 9-3</text><text transform="rotate(433.464 396.3 292.5) translate(215.80 295.00) scale(0.95 1)" text-anchor="end">Pt FRA 5-3</text><text transform="rotate(435.752 396.3 292.5) translate(215.80 295.00) scale(0.95 1)" text-anchor="end">DURUM CA<tspan letter-spacing="-0.45">1</tspan>-2</text><text transform="rotate(438.039 396.3 292.5) translate(215.80 295.00) scale(0.95 1)" text-anchor="end">DHJJ 09GBI4-<tspan letter-spacing="-0.45">1</tspan></text><text transform="rotate(440.327 396.3 292.5) translate(215.80 295.00) scale(0.95 1)" text-anchor="end">DGGQ 09GBR<tspan letter-spacing="-0.45">1</tspan>0 <tspan letter-spacing="-0.45">1</tspan></text><text transform="rotate(442.614 396.3 292.5) translate(215.80 295.00) scale(0.95 1)" text-anchor="end">BBBQB CZ20 09</text><text transform="rotate(444.902 396.3 292.5) translate(215.80 295.00) scale(0.95 1)" text-anchor="end">DURUM 09AZ<tspan letter-spacing="-0.45">1</tspan>03A</text><text transform="rotate(447.190 396.3 292.5) translate(215.80 295.00) scale(0.95 1)" text-anchor="end">FHMQQ CZ<tspan letter-spacing="-0.45">1</tspan>0 09</text><text transform="rotate(449.477 396.3 292.5) translate(215.80 295.00) scale(0.95 1)" text-anchor="end">FCPSQ 09TUR23 <tspan letter-spacing="-0.45">1</tspan></text><text transform="rotate(271.765 396.3 292.5) translate(576.80 295.00) scale(0.95 1)"><tspan letter-spacing="-0.45">1</tspan>9QLD08</text><text transform="rotate(274.052 396.3 292.5) translate(576.80 295.00) scale(0.95 1)"><tspan letter-spacing="-0.45">1</tspan>9ACT06</text><text transform="rotate(276.340 396.3 292.5) translate(576.80 295.00) scale(0.95 1)">SCPBJ ISR<tspan letter-spacing="-0.45">1</tspan>73B</text><text transform="rotate(278.627 396.3 292.5) translate(576.80 295.00) scale(0.95 1)">FCPNS CZ<tspan letter-spacing="-0.45">1</tspan>8 09</text><text transform="rotate(280.915 396.3 292.5) translate(576.80 295.00) scale(0.95 1)">FCPSS F95</text><text transform="rotate(283.203 396.3 292.5) translate(576.80 295.00) scale(0.95 1)">FCPQQ 95SK2 2</text><text transform="rotate(285.490 396.3 292.5) translate(576.80 295.00) scale(0.95 1)">FBPSQ FR56</text><text transform="rotate(287.778 396.3 292.5) translate(576.80 295.00) scale(0.95 1)">Pt900084</text><text transform="rotate(290.065 396.3 292.5) translate(576.80 295.00) scale(0.95 1)">Pt900273</text><text transform="rotate(292.353 396.3 292.5) translate(576.80 295.00) scale(0.95 1)">Pt89-L-<tspan letter-spacing="-0.45">1</tspan></text><text transform="rotate(294.641 396.3 292.5) translate(576.80 295.00) scale(0.95 1)">S472</text><text transform="rotate(296.928 396.3 292.5) translate(576.80 295.00) scale(0.95 1)">S52<tspan letter-spacing="-0.45">1</tspan></text><text transform="rotate(299.216 396.3 292.5) translate(576.80 295.00) scale(0.95 1)">S467</text><text transform="rotate(301.503 396.3 292.5) translate(576.80 295.00) scale(0.95 1)">S459</text><text transform="rotate(303.791 396.3 292.5) translate(576.80 295.00) scale(0.95 1)">S423</text><text transform="rotate(306.078 396.3 292.5) translate(576.80 295.00) scale(0.95 1)">S474</text><text transform="rotate(308.366 396.3 292.5) translate(576.80 295.00) scale(0.95 1)">S477</text><text transform="rotate(310.654 396.3 292.5) translate(576.80 295.00) scale(0.95 1)">KCMQ 09TUR<tspan letter-spacing="-0.45">1</tspan>9 2 09</text><text transform="rotate(312.941 396.3 292.5) translate(576.80 295.00) scale(0.95 1)">FCPSQ 09TUR<tspan letter-spacing="-0.45">1</tspan><tspan letter-spacing="-0.45">1</tspan> <tspan letter-spacing="-0.45">1</tspan></text><text transform="rotate(315.229 396.3 292.5) translate(576.80 295.00) scale(0.95 1)">PtQWRI</text><text transform="rotate(317.516 396.3 292.5) translate(576.80 295.00) scale(0.95 1)">Pt670028</text><text transform="rotate(319.804 396.3 292.5) translate(576.80 295.00) scale(0.95 1)">Pt700575</text><text transform="rotate(322.092 396.3 292.5) translate(576.80 295.00) scale(0.95 1)">Pt70020<tspan letter-spacing="-0.45">1</tspan></text><text transform="rotate(324.379 396.3 292.5) translate(576.80 295.00) scale(0.95 1)">Pt66-L-3</text><text transform="rotate(326.667 396.3 292.5) translate(576.80 295.00) scale(0.95 1)">Pt630846</text><text transform="rotate(328.954 396.3 292.5) translate(576.80 295.00) scale(0.95 1)">Pt890<tspan letter-spacing="-0.45">1</tspan>55</text><text transform="rotate(331.242 396.3 292.5) translate(576.80 295.00) scale(0.95 1)">Pt760285</text><text transform="rotate(333.529 396.3 292.5) translate(576.80 295.00) scale(0.95 1)">Pt790<tspan letter-spacing="-0.45">1</tspan>97</text><text transform="rotate(335.817 396.3 292.5) translate(576.80 295.00) scale(0.95 1)">Pt630550</text><text transform="rotate(338.105 396.3 292.5) translate(576.80 295.00) scale(0.95 1)">Pt8CL 75</text><text transform="rotate(340.392 396.3 292.5) translate(576.80 295.00) scale(0.95 1)">Pt60-L-2</text><text transform="rotate(342.680 396.3 292.5) translate(576.80 295.00) scale(0.95 1)">Pt64-L-3</text><text transform="rotate(344.967 396.3 292.5) translate(576.80 295.00) scale(0.95 1)">Pt740408</text><text transform="rotate(347.255 396.3 292.5) translate(576.80 295.00) scale(0.95 1)">Pt730003</text><text transform="rotate(349.542 396.3 292.5) translate(576.80 295.00) scale(0.95 1)">Pt740606</text><text transform="rotate(351.830 396.3 292.5) translate(576.80 295.00) scale(0.95 1)">Pt750299</text><text transform="rotate(354.118 396.3 292.5) translate(576.80 295.00) scale(0.95 1)">KBBJK 84MN526 2</text><text transform="rotate(356.405 396.3 292.5) translate(576.80 295.00) scale(0.95 1)">PBMGK 87NY626 2</text><text transform="rotate(358.693 396.3 292.5) translate(576.80 295.00) scale(0.95 1)">PNMR 94LA<tspan letter-spacing="-0.45">1</tspan>0<tspan letter-spacing="-0.45">1</tspan></text><text transform="rotate(360.980 396.3 292.5) translate(576.80 295.00) scale(0.95 1)">PBLR 9<tspan letter-spacing="-0.45">1</tspan>MI</text><text transform="rotate(363.268 396.3 292.5) translate(576.80 295.00) scale(0.95 1)">FLLLK 82TX2</text><text transform="rotate(365.556 396.3 292.5) translate(576.80 295.00) scale(0.95 1)">NBGKK 82MN<tspan letter-spacing="-0.45">1</tspan><tspan letter-spacing="-0.45">1</tspan>6 <tspan letter-spacing="-0.45">1</tspan></text><text transform="rotate(367.843 396.3 292.5) translate(576.80 295.00) scale(0.95 1)">NBBGT <tspan letter-spacing="-0.45">1</tspan><tspan letter-spacing="-0.45">1</tspan>US<tspan letter-spacing="-0.45">1</tspan>82 <tspan letter-spacing="-0.45">1</tspan></text><text transform="rotate(370.131 396.3 292.5) translate(576.80 295.00) scale(0.95 1)">NBBR 98WA<tspan letter-spacing="-0.45">1</tspan></text><text transform="rotate(372.418 396.3 292.5) translate(576.80 295.00) scale(0.95 1)">NBBSG <tspan letter-spacing="-0.45">1</tspan><tspan letter-spacing="-0.45">1</tspan>US<tspan letter-spacing="-0.45">1</tspan>79 2A</text><text transform="rotate(374.706 396.3 292.5) translate(576.80 295.00) scale(0.95 1)">NBBTG <tspan letter-spacing="-0.45">1</tspan><tspan letter-spacing="-0.45">1</tspan>US203 3B</text><text transform="rotate(376.993 396.3 292.5) translate(576.80 295.00) scale(0.95 1)">NBBRG <tspan letter-spacing="-0.45">1</tspan><tspan letter-spacing="-0.45">1</tspan>US203 2B</text><text transform="rotate(379.281 396.3 292.5) translate(576.80 295.00) scale(0.95 1)">PBDJ 84PA<tspan letter-spacing="-0.45">1</tspan></text><text transform="rotate(381.569 396.3 292.5) translate(576.80 295.00) scale(0.95 1)">race <tspan letter-spacing="-0.45">1</tspan></text><text transform="rotate(383.856 396.3 292.5) translate(576.80 295.00) scale(0.95 1)">BBBD 04NE346 2</text><text transform="rotate(386.144 396.3 292.5) translate(576.80 295.00) scale(0.95 1)"><tspan letter-spacing="-0.45">1</tspan>9NSW04</text><text transform="rotate(388.431 396.3 292.5) translate(576.80 295.00) scale(0.95 1)"><tspan letter-spacing="-0.45">1</tspan>9ACT07</text><text transform="rotate(390.719 396.3 292.5) translate(576.80 295.00) scale(0.95 1)">20QLD9<tspan letter-spacing="-0.45">1</tspan></text><text transform="rotate(393.007 396.3 292.5) translate(576.80 295.00) scale(0.95 1)">20ACT90</text><text transform="rotate(395.294 396.3 292.5) translate(576.80 295.00) scale(0.95 1)">TCTDL 03VA<tspan letter-spacing="-0.45">1</tspan>90</text><text transform="rotate(397.582 396.3 292.5) translate(576.80 295.00) scale(0.95 1)">MCTSB <tspan letter-spacing="-0.45">1</tspan><tspan letter-spacing="-0.45">1</tspan>US<tspan letter-spacing="-0.45">1</tspan><tspan letter-spacing="-0.45">1</tspan>6 <tspan letter-spacing="-0.45">1</tspan></text><text transform="rotate(399.869 396.3 292.5) translate(576.80 295.00) scale(0.95 1)">MCTSB <tspan letter-spacing="-0.45">1</tspan><tspan letter-spacing="-0.45">1</tspan>US0<tspan letter-spacing="-0.45">1</tspan>9 2</text><text transform="rotate(402.157 396.3 292.5) translate(576.80 295.00) scale(0.95 1)">MFPS 06MN268</text><text transform="rotate(404.444 396.3 292.5) translate(576.80 295.00) scale(0.95 1)">MHDS 03OH237</text><text transform="rotate(406.732 396.3 292.5) translate(576.80 295.00) scale(0.95 1)">MDDSB <tspan letter-spacing="-0.45">1</tspan><tspan letter-spacing="-0.45">1</tspan>US040 3</text><text transform="rotate(409.020 396.3 292.5) translate(576.80 295.00) scale(0.95 1)">MCDSB <tspan letter-spacing="-0.45">1</tspan><tspan letter-spacing="-0.45">1</tspan>US<tspan letter-spacing="-0.45">1</tspan>85 2</text><text transform="rotate(411.307 396.3 292.5) translate(576.80 295.00) scale(0.95 1)">MFNSB <tspan letter-spacing="-0.45">1</tspan><tspan letter-spacing="-0.45">1</tspan>US039 2</text><text transform="rotate(413.595 396.3 292.5) translate(576.80 295.00) scale(0.95 1)">MFNSB <tspan letter-spacing="-0.45">1</tspan><tspan letter-spacing="-0.45">1</tspan>US074 2</text><text transform="rotate(415.882 396.3 292.5) translate(576.80 295.00) scale(0.95 1)">MFNSB <tspan letter-spacing="-0.45">1</tspan><tspan letter-spacing="-0.45">1</tspan>US220 3</text><text transform="rotate(418.170 396.3 292.5) translate(576.80 295.00) scale(0.95 1)">MBTNB <tspan letter-spacing="-0.45">1</tspan><tspan letter-spacing="-0.45">1</tspan>US0<tspan letter-spacing="-0.45">1</tspan>4 2</text><text transform="rotate(420.458 396.3 292.5) translate(576.80 295.00) scale(0.95 1)">MCTNB <tspan letter-spacing="-0.45">1</tspan><tspan letter-spacing="-0.45">1</tspan>US2<tspan letter-spacing="-0.45">1</tspan>3 <tspan letter-spacing="-0.45">1</tspan></text><text transform="rotate(422.745 396.3 292.5) translate(576.80 295.00) scale(0.95 1)">MCTNB <tspan letter-spacing="-0.45">1</tspan><tspan letter-spacing="-0.45">1</tspan>US205 2</text><text transform="rotate(425.033 396.3 292.5) translate(576.80 295.00) scale(0.95 1)">MCTNB <tspan letter-spacing="-0.45">1</tspan><tspan letter-spacing="-0.45">1</tspan>US204 3</text><text transform="rotate(427.320 396.3 292.5) translate(576.80 295.00) scale(0.95 1)">MBTNB <tspan letter-spacing="-0.45">1</tspan><tspan letter-spacing="-0.45">1</tspan>US<tspan letter-spacing="-0.45">1</tspan>48 2</text><text transform="rotate(429.608 396.3 292.5) translate(576.80 295.00) scale(0.95 1)">MBTNB <tspan letter-spacing="-0.45">1</tspan><tspan letter-spacing="-0.45">1</tspan>US<tspan letter-spacing="-0.45">1</tspan>89 3</text><text transform="rotate(431.895 396.3 292.5) translate(576.80 295.00) scale(0.95 1)">TCTSB <tspan letter-spacing="-0.45">1</tspan><tspan letter-spacing="-0.45">1</tspan>US078 <tspan letter-spacing="-0.45">1</tspan></text><text transform="rotate(434.183 396.3 292.5) translate(576.80 295.00) scale(0.95 1)">TCJSB <tspan letter-spacing="-0.45">1</tspan><tspan letter-spacing="-0.45">1</tspan>US034 2</text><text transform="rotate(436.471 396.3 292.5) translate(576.80 295.00) scale(0.95 1)">MCDSD <tspan letter-spacing="-0.45">1</tspan><tspan letter-spacing="-0.45">1</tspan>US<tspan letter-spacing="-0.45">1</tspan>44 2</text><text transform="rotate(438.758 396.3 292.5) translate(576.80 295.00) scale(0.95 1)">MBDSD <tspan letter-spacing="-0.45">1</tspan><tspan letter-spacing="-0.45">1</tspan>US<tspan letter-spacing="-0.45">1</tspan>29 2</text><text transform="rotate(441.046 396.3 292.5) translate(576.80 295.00) scale(0.95 1)">TDFSS 04TX86</text><text transform="rotate(443.333 396.3 292.5) translate(576.80 295.00) scale(0.95 1)">MDPSB <tspan letter-spacing="-0.45">1</tspan><tspan letter-spacing="-0.45">1</tspan>US<tspan letter-spacing="-0.45">1</tspan>22 <tspan letter-spacing="-0.45">1</tspan></text><text transform="rotate(445.621 396.3 292.5) translate(576.80 295.00) scale(0.95 1)">TCPSS 04KS2<tspan letter-spacing="-0.45">1</tspan>3</text><text transform="rotate(447.908 396.3 292.5) translate(576.80 295.00) scale(0.95 1)">MDFSB <tspan letter-spacing="-0.45">1</tspan><tspan letter-spacing="-0.45">1</tspan>US<tspan letter-spacing="-0.45">1</tspan>87 2</text><text transform="rotate(630.196 396.3 292.5) translate(215.80 295.00) scale(0.95 1)" text-anchor="end">MCPSS 04ND477</text><text transform="rotate(632.484 396.3 292.5) translate(215.80 295.00) scale(0.95 1)" text-anchor="end">FBMTK 04GA88 03</text><text transform="rotate(634.771 396.3 292.5) translate(215.80 295.00) scale(0.95 1)" text-anchor="end">MMDSD <tspan letter-spacing="-0.45">1</tspan><tspan letter-spacing="-0.45">1</tspan>US075 <tspan letter-spacing="-0.45">1</tspan></text><text transform="rotate(637.059 396.3 292.5) translate(215.80 295.00) scale(0.95 1)" text-anchor="end">MLDSD <tspan letter-spacing="-0.45">1</tspan><tspan letter-spacing="-0.45">1</tspan>US025 3</text><text transform="rotate(639.346 396.3 292.5) translate(215.80 295.00) scale(0.95 1)" text-anchor="end">MLDSS <tspan letter-spacing="-0.45">1</tspan>0MN<tspan letter-spacing="-0.45">1</tspan>7 2</text><text transform="rotate(641.634 396.3 292.5) translate(215.80 295.00) scale(0.95 1)" text-anchor="end">MLDS 06MN384</text><text transform="rotate(643.922 396.3 292.5) translate(215.80 295.00) scale(0.95 1)" text-anchor="end">MCDS 03CA360 2</text><text transform="rotate(646.209 396.3 292.5) translate(215.80 295.00) scale(0.95 1)" text-anchor="end">MCJSS 04ND447</text><text transform="rotate(648.497 396.3 292.5) translate(215.80 295.00) scale(0.95 1)" text-anchor="end">TBDS 04TX67</text><text transform="rotate(650.784 396.3 292.5) translate(215.80 295.00) scale(0.95 1)" text-anchor="end">20QLD87</text><text transform="rotate(653.072 396.3 292.5) translate(215.80 295.00) scale(0.95 1)" text-anchor="end">MBDS 06CAN32-<tspan letter-spacing="-0.45">1</tspan></text><text transform="rotate(655.359 396.3 292.5) translate(215.80 295.00) scale(0.95 1)" text-anchor="end">MCPSB <tspan letter-spacing="-0.45">1</tspan><tspan letter-spacing="-0.45">1</tspan>US230 <tspan letter-spacing="-0.45">1</tspan></text><text transform="rotate(657.647 396.3 292.5) translate(215.80 295.00) scale(0.95 1)" text-anchor="end">MBPSB <tspan letter-spacing="-0.45">1</tspan><tspan letter-spacing="-0.45">1</tspan>US<tspan letter-spacing="-0.45">1</tspan>59 <tspan letter-spacing="-0.45">1</tspan></text><text transform="rotate(659.935 396.3 292.5) translate(215.80 295.00) scale(0.95 1)" text-anchor="end">TBBGJ <tspan letter-spacing="-0.45">1</tspan><tspan letter-spacing="-0.45">1</tspan>US042 <tspan letter-spacing="-0.45">1</tspan></text><text transform="rotate(662.222 396.3 292.5) translate(215.80 295.00) scale(0.95 1)" text-anchor="end">TPBGJ <tspan letter-spacing="-0.45">1</tspan><tspan letter-spacing="-0.45">1</tspan>US044 <tspan letter-spacing="-0.45">1</tspan></text><text transform="rotate(664.510 396.3 292.5) translate(215.80 295.00) scale(0.95 1)" text-anchor="end">TJBGH 04OH300</text><text transform="rotate(666.797 396.3 292.5) translate(215.80 295.00) scale(0.95 1)" text-anchor="end">PBJSF 84VA</text><text transform="rotate(669.085 396.3 292.5) translate(215.80 295.00) scale(0.95 1)" text-anchor="end">PBJL PRTUS6</text><text transform="rotate(671.373 396.3 292.5) translate(215.80 295.00) scale(0.95 1)" text-anchor="end">LBBKK 99NC</text><text transform="rotate(673.660 396.3 292.5) translate(215.80 295.00) scale(0.95 1)" text-anchor="end">SBDB 04MN364</text><text transform="rotate(675.948 396.3 292.5) translate(215.80 295.00) scale(0.95 1)" text-anchor="end">SBDGD <tspan letter-spacing="-0.45">1</tspan>0MT<tspan letter-spacing="-0.45">1</tspan>3 <tspan letter-spacing="-0.45">1</tspan></text><text transform="rotate(678.235 396.3 292.5) translate(215.80 295.00) scale(0.95 1)" text-anchor="end">MBBJT RACE5</text><text transform="rotate(680.523 396.3 292.5) translate(215.80 295.00) scale(0.95 1)" text-anchor="end">PRTUS<tspan letter-spacing="-0.45">1</tspan> PRTUS<tspan letter-spacing="-0.45">1</tspan></text><text transform="rotate(682.810 396.3 292.5) translate(215.80 295.00) scale(0.95 1)" text-anchor="end">MBGDK 99NC23 <tspan letter-spacing="-0.45">1</tspan>8</text><text transform="rotate(685.098 396.3 292.5) translate(215.80 295.00) scale(0.95 1)" text-anchor="end">KFBJG 97CA64 <tspan letter-spacing="-0.45">1</tspan></text><text transform="rotate(687.386 396.3 292.5) translate(215.80 295.00) scale(0.95 1)" text-anchor="end">MJBJ 97NE406</text><text transform="rotate(689.673 396.3 292.5) translate(215.80 295.00) scale(0.95 1)" text-anchor="end">TCGJG <tspan letter-spacing="-0.45">1</tspan><tspan letter-spacing="-0.45">1</tspan>US258 3</text><text transform="rotate(691.961 396.3 292.5) translate(215.80 295.00) scale(0.95 1)" text-anchor="end">MBRL KSUSDA<tspan letter-spacing="-0.45">1</tspan></text><text transform="rotate(694.248 396.3 292.5) translate(215.80 295.00) scale(0.95 1)" text-anchor="end">TCRKG <tspan letter-spacing="-0.45">1</tspan><tspan letter-spacing="-0.45">1</tspan>US<tspan letter-spacing="-0.45">1</tspan><tspan letter-spacing="-0.45">1</tspan>6 2</text><text transform="rotate(696.536 396.3 292.5) translate(215.80 295.00) scale(0.95 1)" text-anchor="end">TCRKG <tspan letter-spacing="-0.45">1</tspan><tspan letter-spacing="-0.45">1</tspan>US057 <tspan letter-spacing="-0.45">1</tspan></text><text transform="rotate(698.824 396.3 292.5) translate(215.80 295.00) scale(0.95 1)" text-anchor="end">TNRJ <tspan letter-spacing="-0.45">1</tspan><tspan letter-spacing="-0.45">1</tspan>US043 3</text><text transform="rotate(701.111 396.3 292.5) translate(215.80 295.00) scale(0.95 1)" text-anchor="end">TNRJ <tspan letter-spacing="-0.45">1</tspan><tspan letter-spacing="-0.45">1</tspan>US098 2</text><text transform="rotate(703.399 396.3 292.5) translate(215.80 295.00) scale(0.95 1)" text-anchor="end">TNRJ 05TX27</text><text transform="rotate(705.686 396.3 292.5) translate(215.80 295.00) scale(0.95 1)" text-anchor="end">TCBJK 04TX<tspan letter-spacing="-0.45">1</tspan>04</text><text transform="rotate(707.974 396.3 292.5) translate(215.80 295.00) scale(0.95 1)" text-anchor="end">THBJ 99ND588</text><text transform="rotate(710.261 396.3 292.5) translate(215.80 295.00) scale(0.95 1)" text-anchor="end">TCBJG <tspan letter-spacing="-0.45">1</tspan><tspan letter-spacing="-0.45">1</tspan>US053 3</text><text transform="rotate(712.549 396.3 292.5) translate(215.80 295.00) scale(0.95 1)" text-anchor="end">TFBJQ <tspan letter-spacing="-0.45">1</tspan>0MN3 <tspan letter-spacing="-0.45">1</tspan> 2</text><text transform="rotate(714.837 396.3 292.5) translate(215.80 295.00) scale(0.95 1)" text-anchor="end">TNBGJ <tspan letter-spacing="-0.45">1</tspan><tspan letter-spacing="-0.45">1</tspan>US<tspan letter-spacing="-0.45">1</tspan>30 2</text><text transform="rotate(717.124 396.3 292.5) translate(215.80 295.00) scale(0.95 1)" text-anchor="end">TFBGQ <tspan letter-spacing="-0.45">1</tspan><tspan letter-spacing="-0.45">1</tspan>US2<tspan letter-spacing="-0.45">1</tspan>2 <tspan letter-spacing="-0.45">1</tspan></text><text transform="rotate(719.412 396.3 292.5) translate(215.80 295.00) scale(0.95 1)" text-anchor="end">TDBJG <tspan letter-spacing="-0.45">1</tspan><tspan letter-spacing="-0.45">1</tspan>US<tspan letter-spacing="-0.45">1</tspan>54 <tspan letter-spacing="-0.45">1</tspan></text><text transform="rotate(721.699 396.3 292.5) translate(215.80 295.00) scale(0.95 1)" text-anchor="end">TNBJJ <tspan letter-spacing="-0.45">1</tspan><tspan letter-spacing="-0.45">1</tspan>US030 <tspan letter-spacing="-0.45">1</tspan></text><text transform="rotate(723.987 396.3 292.5) translate(215.80 295.00) scale(0.95 1)" text-anchor="end">TDBJQ <tspan letter-spacing="-0.45">1</tspan><tspan letter-spacing="-0.45">1</tspan>US09<tspan letter-spacing="-0.45">1</tspan> 2</text><text transform="rotate(726.275 396.3 292.5) translate(215.80 295.00) scale(0.95 1)" text-anchor="end">TDBJQ <tspan letter-spacing="-0.45">1</tspan><tspan letter-spacing="-0.45">1</tspan>US026 <tspan letter-spacing="-0.45">1</tspan></text><text transform="rotate(728.562 396.3 292.5) translate(215.80 295.00) scale(0.95 1)" text-anchor="end">TDBG 08TX2<tspan letter-spacing="-0.45">1</tspan>0</text><text transform="rotate(730.850 396.3 292.5) translate(215.80 295.00) scale(0.95 1)" text-anchor="end">TNBGJ <tspan letter-spacing="-0.45">1</tspan><tspan letter-spacing="-0.45">1</tspan>US048 2</text><text transform="rotate(733.137 396.3 292.5) translate(215.80 295.00) scale(0.95 1)" text-anchor="end">TNBGJ <tspan letter-spacing="-0.45">1</tspan><tspan letter-spacing="-0.45">1</tspan>US045 2</text><text transform="rotate(735.425 396.3 292.5) translate(215.80 295.00) scale(0.95 1)" text-anchor="end">TFBGG <tspan letter-spacing="-0.45">1</tspan><tspan letter-spacing="-0.45">1</tspan>US<tspan letter-spacing="-0.45">1</tspan>76 2</text><text transform="rotate(737.712 396.3 292.5) translate(215.80 295.00) scale(0.95 1)" text-anchor="end">TNBGJ <tspan letter-spacing="-0.45">1</tspan><tspan letter-spacing="-0.45">1</tspan>US022 3</text><text transform="rotate(740.000 396.3 292.5) translate(215.80 295.00) scale(0.95 1)" text-anchor="end">TBBGJ <tspan letter-spacing="-0.45">1</tspan><tspan letter-spacing="-0.45">1</tspan>US<tspan letter-spacing="-0.45">1</tspan>36 <tspan letter-spacing="-0.45">1</tspan></text></g>
<path d="M396.30,292.50L384.60,273.87M377.25,281.50A22.00,22.00 0 0 1 394.66,270.56M377.25,281.50L358.19,270.50M394.66,270.56L392.98,247.92M364.42,261.16A44.70,44.70 0 0 1 423.18,256.78M364.42,261.16L348.16,245.18M342.80,251.34A67.50,67.50 0 0 1 354.23,239.71M342.80,251.34L327.75,239.75M324.59,244.13A86.50,86.50 0 0 1 331.17,235.58M324.59,244.13L321.36,241.94M319.88,244.21A90.40,90.40 0 0 1 322.91,239.72M319.88,244.21L314.30,240.69M322.91,239.72L316.33,234.99M315.20,236.60A98.50,98.50 0 0 1 317.49,233.41M315.20,236.60L313.14,235.18M317.49,233.41L315.49,231.91M331.17,235.58L318.74,224.72M316.42,227.47A103.00,103.00 0 0 1 321.16,222.05M316.42,227.47L310.22,222.42M321.16,222.05L314.23,215.55M311.96,218.05A112.50,112.50 0 0 1 316.57,213.13M311.96,218.05L310.84,217.05M316.57,213.13L313.73,210.31M312.11,211.97A116.50,116.50 0 0 1 315.39,208.68M312.11,211.97L308.86,208.86M315.39,208.68L312.27,205.44M354.23,239.71L338.02,219.38M334.10,222.69A93.50,93.50 0 0 1 342.12,216.30M334.10,222.69L327.12,214.85M342.12,216.30L334.30,205.29M330.03,208.49A107.00,107.00 0 0 1 338.72,202.31M330.03,208.49L321.36,197.50M319.48,199.02A121.00,121.00 0 0 1 323.27,196.02M319.48,199.02L318.21,197.47M323.27,196.02L322.06,194.43M338.72,202.31L335.77,197.67M332.04,200.16A112.50,112.50 0 0 1 339.59,195.34M332.04,200.16L330.04,197.29M339.59,195.34L338.78,193.96M334.91,196.32A114.10,114.10 0 0 1 342.75,191.75M334.91,196.32L333.03,193.37M342.75,191.75L342.00,190.34M337.99,192.57A115.70,115.70 0 0 1 346.09,188.26M337.99,192.57L336.23,189.54M346.09,188.26L345.39,186.82M341.28,188.91A117.30,117.30 0 0 1 349.58,184.90M341.28,188.91L339.64,185.81M349.58,184.90L348.95,183.44M344.76,185.35A118.90,118.90 0 0 1 353.20,181.69M344.76,185.35L343.25,182.20M353.20,181.69L352.62,180.20M348.45,181.91A120.50,120.50 0 0 1 356.85,178.64M348.45,181.91L347.06,178.70M356.85,178.64L356.33,177.13M352.32,178.59A122.10,122.10 0 0 1 360.38,175.80M352.32,178.59L351.06,175.33M360.38,175.80L359.91,174.27M356.39,175.42A123.70,123.70 0 0 1 363.47,173.24M356.39,175.42L355.26,172.10M363.47,173.24L363.04,171.69M360.64,172.38A125.30,125.30 0 0 1 365.46,171.05M360.64,172.38L359.64,169.03M365.46,171.05L364.60,167.66M423.18,256.78L432.26,244.72M395.05,232.71A59.80,59.80 0 0 1 454.10,277.15M395.05,232.71L394.87,224.22M386.17,224.96A68.30,68.30 0 0 1 403.59,224.59M386.17,224.96L382.95,203.50M379.41,204.10A90.00,90.00 0 0 1 386.51,203.03M379.41,204.10L378.47,199.19M376.61,199.56A95.00,95.00 0 0 1 380.34,198.85M376.61,199.56L374.54,189.78M380.34,198.85L379.33,192.94M386.51,203.03L385.16,190.61M383.12,190.85A102.50,102.50 0 0 1 387.19,190.41M383.12,190.85L382.93,189.36M387.19,190.41L387.06,188.91M403.59,224.59L406.01,202.02M395.02,201.51A91.00,91.00 0 0 1 416.86,203.85M395.02,201.51L394.82,188.01M391.18,188.13A104.50,104.50 0 0 1 398.48,188.02M391.18,188.13L390.84,181.33M398.48,188.02L398.68,178.22M395.26,178.20A114.30,114.30 0 0 1 402.10,178.35M395.26,178.20L395.21,173.50M402.10,178.35L402.54,169.66M400.09,169.56A123.00,123.00 0 0 1 404.99,169.81M400.09,169.56L400.16,167.06M404.99,169.81L405.17,167.31M416.86,203.85L419.91,190.70M411.46,189.11A104.50,104.50 0 0 1 428.20,192.99M411.46,189.11L413.71,173.77M409.55,173.23A120.00,120.00 0 0 1 417.85,174.45M409.55,173.23L411.21,158.33M417.85,174.45L419.46,165.60M415.65,164.96A129.00,129.00 0 0 1 423.25,166.35M415.65,164.96L416.10,161.99M423.25,166.35L424.40,160.97M421.77,160.43A134.50,134.50 0 0 1 427.02,161.56M421.77,160.43L422.24,157.98M427.02,161.56L427.59,159.12M428.20,192.99L439.44,157.95M434.04,156.33A141.30,141.30 0 0 1 444.77,159.77M434.04,156.33L434.63,154.21M444.77,159.77L446.55,154.89M441.03,153.00A146.50,146.50 0 0 1 451.99,157.00M441.03,153.00L441.21,152.42M451.99,157.00L452.11,156.72M446.67,154.61A146.80,146.80 0 0 1 457.46,159.05M446.67,154.61L446.87,154.05M457.46,159.05L457.59,158.78M452.24,156.45A147.10,147.10 0 0 1 462.84,161.31M452.24,156.45L452.47,155.90M462.84,161.31L462.97,161.04M457.75,158.52A147.40,147.40 0 0 1 468.09,163.76M457.75,158.52L458.00,157.98M468.09,163.76L468.23,163.50M463.19,160.81A147.70,147.70 0 0 1 473.17,166.38M463.19,160.81L463.46,160.28M473.17,166.38L473.32,166.12M468.54,163.33A148.00,148.00 0 0 1 478.00,169.09M468.54,163.33L468.83,162.80M478.00,169.09L478.16,168.84M473.79,166.06A148.30,148.30 0 0 1 482.43,171.78M473.79,166.06L474.11,165.55M482.43,171.78L482.61,171.53M478.95,169.00A148.60,148.60 0 0 1 486.19,174.17M478.95,169.00L479.28,168.50M486.19,174.17L486.37,173.93M483.99,172.16A148.90,148.90 0 0 1 488.72,175.75M483.99,172.16L484.34,171.67M488.72,175.75L489.09,175.28M454.10,277.15L465.40,274.15M446.55,241.64A71.50,71.50 0 0 1 465.17,311.72M446.55,241.64L456.39,231.68M453.29,228.76A85.50,85.50 0 0 1 459.35,234.75M453.29,228.76L456.28,225.40M454.93,224.22A90.00,90.00 0 0 1 457.61,226.62M454.93,224.22L456.56,222.32M457.61,226.62L459.32,224.79M459.35,234.75L489.37,207.27M485.89,203.62A126.20,126.20 0 0 1 492.70,211.05M485.89,203.62L486.82,202.70M492.70,211.05L494.45,209.57M491.06,205.71A128.50,128.50 0 0 1 497.69,213.55M491.06,205.71L491.58,205.24M497.69,213.55L497.96,213.33M494.72,209.34A128.85,128.85 0 0 1 501.04,217.45M494.72,209.34L495.26,208.89M501.04,217.45L501.32,217.25M498.24,213.12A129.20,129.20 0 0 1 504.24,221.50M498.24,213.12L498.79,212.69M504.24,221.50L504.54,221.31M501.61,217.05A129.55,129.55 0 0 1 507.29,225.69M501.61,217.05L502.18,216.64M507.29,225.69L507.59,225.51M504.83,221.12A129.90,129.90 0 0 1 510.18,230.00M504.83,221.12L505.41,220.73M510.18,230.00L510.48,229.83M507.89,225.33A130.25,130.25 0 0 1 512.89,234.43M507.89,225.33L508.49,224.97M512.89,234.43L513.20,234.28M510.79,229.67A130.60,130.60 0 0 1 515.43,238.98M510.79,229.67L511.41,229.33M515.43,238.98L515.75,238.84M513.52,234.13A130.95,130.95 0 0 1 517.79,243.63M513.52,234.13L514.15,233.82M517.79,243.63L518.11,243.50M516.08,238.71A131.30,131.30 0 0 1 519.96,248.36M516.08,238.71L516.72,238.43M519.96,248.36L520.29,248.24M518.45,243.41A131.65,131.65 0 0 1 521.93,253.15M518.45,243.41L519.10,243.14M521.93,253.15L522.27,253.04M520.65,248.20A132.00,132.00 0 0 1 523.70,257.95M520.65,248.20L521.30,247.97M523.70,257.95L524.03,257.85M522.65,253.10A132.35,132.35 0 0 1 525.24,262.66M522.65,253.10L523.32,252.89M525.24,262.66L525.58,262.58M524.46,258.08A132.70,132.70 0 0 1 526.55,267.11M524.46,258.08L525.13,257.90M526.55,267.11L526.89,267.05M526.07,263.15A133.05,133.05 0 0 1 527.60,270.97M526.07,263.15L526.75,262.99M527.60,270.97L527.94,270.91M527.48,268.29A133.40,133.40 0 0 1 528.35,273.54M527.48,268.29L528.17,268.16M528.35,273.54L529.04,273.44M465.17,311.72L482.22,316.48M485.44,289.34A89.20,89.20 0 0 1 470.92,341.37M485.44,289.34L502.43,288.74M501.94,281.62A106.20,106.20 0 0 1 502.45,295.87M501.94,281.62L503.23,281.48M502.45,295.87L508.14,296.05M508.14,288.83A111.90,111.90 0 0 1 507.68,303.26M508.14,288.83L517.23,288.53M517.06,284.91A121.00,121.00 0 0 1 517.30,292.15M517.06,284.91L517.86,284.86M517.30,292.15L519.80,292.15M519.77,289.68A123.50,123.50 0 0 1 519.78,294.61M519.77,289.68L520.57,289.66M519.78,294.61L520.58,294.63M507.68,303.26L513.75,303.85M514.11,299.23A118.00,118.00 0 0 1 513.22,308.46M514.11,299.23L514.91,299.27M513.22,308.46L516.19,308.86M516.73,304.21A121.00,121.00 0 0 1 515.47,313.49M516.73,304.21L517.53,304.29M515.47,313.49L516.25,313.62M516.96,309.12A121.80,121.80 0 0 1 515.38,318.10M516.96,309.12L517.75,309.23M515.38,318.10L516.16,318.27M516.99,314.06A122.60,122.60 0 0 1 515.19,322.44M516.99,314.06L517.78,314.21M515.19,322.44L515.96,322.63M516.81,319.04A123.40,123.40 0 0 1 515.01,326.20M516.81,319.04L517.59,319.21M515.01,326.20L515.78,326.42M516.43,324.03A124.20,124.20 0 0 1 515.08,328.80M516.43,324.03L517.21,324.23M515.08,328.80L515.84,329.03M470.92,341.37L474.52,343.73M483.59,326.00A93.50,93.50 0 0 1 461.89,359.13M483.59,326.00L498.53,331.74M499.66,328.66A109.50,109.50 0 0 1 497.31,334.78M499.66,328.66L501.07,329.15M497.31,334.78L505.15,338.06M506.04,335.88A118.00,118.00 0 0 1 504.22,340.22M506.04,335.88L508.36,336.80M504.22,340.22L506.50,341.24M461.89,359.13L474.38,371.82M494.44,345.00A111.30,111.30 0 0 1 447.25,391.45M494.44,345.00L509.34,352.97M511.38,348.99A128.20,128.20 0 0 1 507.16,356.88M511.38,348.99L511.83,349.21M507.16,356.88L507.29,356.96M509.17,353.61A128.35,128.35 0 0 1 505.31,360.25M509.17,353.61L509.65,353.87M505.31,360.25L505.44,360.33M506.77,358.14A128.50,128.50 0 0 1 504.06,362.50M506.77,358.14L507.20,358.40M504.06,362.50L504.48,362.77M447.25,391.45L449.18,395.19M488.53,362.03A115.50,115.50 0 0 1 399.32,407.96M488.53,362.03L494.28,366.36M496.45,363.39A122.70,122.70 0 0 1 492.02,369.26M496.45,363.39L498.32,364.72M492.02,369.26L498.42,374.39M500.04,372.33A130.90,130.90 0 0 1 496.77,376.41M500.04,372.33L500.59,372.76M496.77,376.41L497.30,376.86M399.32,407.96L399.80,426.15M484.58,392.91A133.70,133.70 0 0 1 323.05,404.35M484.58,392.91L485.17,393.59M494.26,384.81A134.60,134.60 0 0 1 475.30,401.48M494.26,384.81L495.28,385.77M497.12,383.78A136.00,136.00 0 0 1 493.39,387.73M497.12,383.78L497.79,384.38M493.39,387.73L494.04,388.36M475.30,401.48L475.50,401.74M485.80,393.47A134.93,134.93 0 0 1 464.44,408.96M485.80,393.47L486.73,394.52M489.74,391.77A136.33,136.33 0 0 1 483.63,397.18M489.74,391.77L490.56,392.64M483.63,397.18L484.02,397.65M486.10,395.87A136.93,136.93 0 0 1 481.90,399.38M486.10,395.87L486.69,396.55M481.90,399.38L482.46,400.08M464.44,408.96L464.60,409.25M474.39,402.94A135.26,135.26 0 0 1 454.31,414.69M474.39,402.94L475.19,404.09M477.41,402.49A136.66,136.66 0 0 1 472.95,405.64M477.41,402.49L477.94,403.21M472.95,405.64L473.46,406.38M454.31,414.69L454.46,414.99M465.50,409.10A135.59,135.59 0 0 1 442.92,419.82M465.50,409.10L466.21,410.31M468.55,408.89A136.99,136.99 0 0 1 463.85,411.68M468.55,408.89L469.02,409.65M463.85,411.68L464.29,412.46M442.92,419.82L443.03,420.13M454.90,415.14A135.92,135.92 0 0 1 430.75,423.98M454.90,415.14L455.50,416.40M459.19,414.57A137.32,137.32 0 0 1 451.77,418.12M459.19,414.57L459.74,415.64M451.77,418.12L452.01,418.67M454.52,417.53A137.92,137.92 0 0 1 449.48,419.76M454.52,417.53L454.90,418.35M449.48,419.76L449.83,420.59M430.75,423.98L430.83,424.30M441.22,421.13A136.25,136.25 0 0 1 420.22,426.63M441.22,421.13L441.68,422.46M444.26,421.52A137.65,137.65 0 0 1 439.08,423.34M444.26,421.52L444.58,422.37M439.08,423.34L439.35,424.19M420.22,426.63L420.28,426.96M430.90,424.63A136.58,136.58 0 0 1 409.51,428.44M430.90,424.63L431.25,425.98M433.91,425.26A137.98,137.98 0 0 1 428.58,426.65M433.91,425.26L434.15,426.12M428.58,426.65L428.79,427.53M409.51,428.44L409.55,428.77M420.30,427.29A136.91,136.91 0 0 1 398.70,429.39M420.30,427.29L420.55,428.67M423.26,428.16A138.31,138.31 0 0 1 417.83,429.12M423.26,428.16L423.44,429.04M417.83,429.12L417.97,430.01M398.70,429.39L398.71,429.72M409.51,429.10A137.24,137.24 0 0 1 387.89,429.48M409.51,429.10L409.64,430.50M412.40,430.20A138.64,138.64 0 0 1 406.89,430.74M412.40,430.20L412.50,431.10M406.89,430.74L406.95,431.63M387.89,429.48L387.87,429.81M398.58,430.05A137.57,137.57 0 0 1 377.22,428.74M398.58,430.05L398.60,431.45M401.37,431.38A138.97,138.97 0 0 1 395.82,431.47M401.37,431.38L401.40,432.28M395.82,431.47L395.82,432.37M377.22,428.74L377.18,429.07M387.58,430.12A137.90,137.90 0 0 1 366.89,427.23M387.58,430.12L387.49,431.52M390.26,431.67A139.30,139.30 0 0 1 384.71,431.32M390.26,431.67L390.22,432.57M384.71,431.32L384.64,432.21M366.89,427.23L366.82,427.55M376.58,429.32A138.23,138.23 0 0 1 357.22,425.09M376.58,429.32L376.38,430.70M379.14,431.07A139.63,139.63 0 0 1 373.62,430.28M379.14,431.07L379.03,431.96M373.62,430.28L373.48,431.16M357.22,425.09L357.12,425.41M365.65,427.63A138.56,138.56 0 0 1 348.75,422.65M365.65,427.63L365.35,428.99M368.08,429.58A139.96,139.96 0 0 1 362.63,428.35M368.08,429.58L367.89,430.47M362.63,428.35L362.41,429.22M348.75,422.65L348.64,422.96M354.88,425.07A138.89,138.89 0 0 1 342.51,420.55M354.88,425.07L354.46,426.40M357.14,427.21A140.29,140.29 0 0 1 351.79,425.54M357.14,427.21L356.89,428.08M351.79,425.54L351.51,426.40M342.51,420.55L341.81,422.21M346.38,424.03A140.69,140.69 0 0 1 337.31,420.23M346.38,424.03L345.95,425.16M337.31,420.23L337.06,420.77M340.93,422.49A141.29,141.29 0 0 1 333.25,418.94M340.93,422.49L340.46,423.59M333.25,418.94L332.98,419.48M335.53,420.72A141.89,141.89 0 0 1 330.46,418.19M335.53,420.72L335.14,421.53M330.46,418.19L330.04,418.99M323.05,404.35L317.79,412.38M324.79,416.68A143.30,143.30 0 0 1 311.05,407.68M324.79,416.68L323.44,419.02M311.05,407.68L310.28,408.73M319.20,414.83A144.60,144.60 0 0 1 301.83,401.98M319.20,414.83L317.65,417.28M301.83,401.98L300.59,403.42M313.30,413.22A146.50,146.50 0 0 1 289.03,392.28M313.30,413.22L311.88,415.28M289.03,392.28L286.47,394.66M298.85,406.54A150.00,150.00 0 0 1 275.52,381.45M298.85,406.54L294.63,411.48M300.08,415.92A156.50,156.50 0 0 1 289.39,406.79M300.08,415.92L294.85,422.63M297.47,424.63A165.00,165.00 0 0 1 292.27,420.57M297.47,424.63L296.57,425.83M292.27,420.57L291.33,421.74M289.39,406.79L283.58,413.00M287.24,416.32A165.00,165.00 0 0 1 280.03,409.57M287.24,416.32L286.38,417.30M280.03,409.57L270.87,418.80M273.41,421.27A178.00,178.00 0 0 1 268.37,416.27M273.41,421.27L272.72,422.00M268.37,416.27L267.65,416.96M275.52,381.45L273.11,383.23M280.17,392.11A153.00,153.00 0 0 1 266.72,373.86M280.17,392.11L278.27,393.74M280.31,396.07A155.50,155.50 0 0 1 276.27,391.36M280.31,396.07L279.42,396.87M276.27,391.36L275.35,392.13M266.72,373.86L266.13,374.23M272.03,382.94A153.70,153.70 0 0 1 260.85,365.14M272.03,382.94L270.00,384.41M271.86,386.92A156.20,156.20 0 0 1 268.20,381.87M271.86,386.92L270.91,387.64M268.20,381.87L267.21,382.56M260.85,365.14L260.23,365.47M266.25,375.72A154.40,154.40 0 0 1 255.02,354.78M266.25,375.72L263.13,377.71M255.02,354.78L254.38,355.07M260.89,368.13A155.10,155.10 0 0 1 249.13,341.45M260.89,368.13L258.70,369.35M260.27,372.08A157.60,157.60 0 0 1 257.20,366.58M260.27,372.08L259.23,372.68M257.20,366.58L256.14,367.15M249.13,341.45L248.46,341.67M254.01,355.96A155.80,155.80 0 0 1 244.35,326.91M254.01,355.96L251.73,356.98M253.72,361.28A158.30,158.30 0 0 1 249.86,352.62M253.72,361.28L252.37,361.93M249.86,352.62L249.31,352.85M250.54,355.77A158.90,158.90 0 0 1 248.13,349.90M250.54,355.77L249.44,356.25M248.13,349.90L247.01,350.33M244.35,326.91L243.66,327.06M247.25,340.20A156.50,156.50 0 0 1 241.24,313.67M247.25,340.20L244.86,340.96M245.86,343.97A159.00,159.00 0 0 1 243.93,337.93M245.86,343.97L244.73,344.36M243.93,337.93L242.78,338.27M241.24,313.67L240.54,313.76M243.23,328.32A157.20,157.20 0 0 1 239.24,299.02M243.23,328.32L240.80,328.89M241.56,331.98A159.70,159.70 0 0 1 240.10,325.77M241.56,331.98L240.39,332.28M240.10,325.77L238.93,326.02M239.24,299.02L238.54,299.04M239.95,314.54A157.90,157.90 0 0 1 238.66,283.49M239.95,314.54L237.47,314.89M238.21,319.63A160.40,160.40 0 0 1 236.87,310.12M238.21,319.63L236.73,319.89M236.87,310.12L236.27,310.19M236.66,313.38A161.00,161.00 0 0 1 235.95,306.99M236.66,313.38L235.47,313.53M235.95,306.99L234.76,307.10M238.66,283.49L237.96,283.45M237.77,297.29A158.60,158.60 0 0 1 239.35,269.67M237.77,297.29L235.27,297.37M235.40,300.58A161.10,161.10 0 0 1 235.21,294.15M235.40,300.58L234.20,300.64M235.21,294.15L234.01,294.17M239.35,269.67L238.66,269.57M237.28,283.01A159.30,159.30 0 0 1 241.17,256.29M237.28,283.01L234.79,282.86M234.57,287.70A161.80,161.80 0 0 1 235.15,278.03M234.57,287.70L233.07,287.66M235.15,278.03L234.55,277.98M234.29,281.21A162.40,162.40 0 0 1 234.87,274.75M234.29,281.21L233.10,281.13M234.87,274.75L233.68,274.62M241.17,256.29L240.49,256.13M238.59,265.53A160.00,160.00 0 0 1 242.94,246.87M238.59,265.53L236.13,265.10M235.61,268.31A162.50,162.50 0 0 1 236.70,261.91M235.61,268.31L234.42,268.13M236.70,261.91L235.53,261.69M242.94,246.87L242.27,246.67M240.57,252.86A160.70,160.70 0 0 1 244.22,240.56M240.57,252.86L238.14,252.24M237.37,255.41A163.20,163.20 0 0 1 238.98,249.09M237.37,255.41L236.20,255.13M238.98,249.09L237.82,248.77M244.22,240.56L241.48,239.63M240.46,242.73A163.60,163.60 0 0 1 242.57,236.55M240.46,242.73L239.31,242.36M242.57,236.55L241.44,236.14" stroke="#2e2e2e" stroke-width="0.95" fill="none"/>
<g fill="#1d5a8e"><circle cx="356.29" cy="253.17" r="2.6"/><circle cx="335.28" cy="245.54" r="2.6"/><circle cx="322.97" cy="243.04" r="2.6"/><circle cx="319.62" cy="237.36" r="2.6"/><circle cx="324.96" cy="230.15" r="2.6"/><circle cx="317.69" cy="218.80" r="2.6"/><circle cx="315.15" cy="211.72" r="2.6"/><circle cx="346.13" cy="229.55" r="2.6"/><circle cx="338.21" cy="210.79" r="2.6"/><circle cx="325.70" cy="203.00" r="2.6"/><circle cx="337.24" cy="199.99" r="2.6"/><circle cx="339.19" cy="194.65" r="2.6"/><circle cx="342.37" cy="191.04" r="2.6"/><circle cx="349.26" cy="184.17" r="2.6"/><circle cx="352.91" cy="180.94" r="2.6"/><circle cx="356.59" cy="177.88" r="2.6"/><circle cx="363.25" cy="172.47" r="2.6"/><circle cx="427.72" cy="250.75" r="2.6"/><circle cx="394.96" cy="228.46" r="1.7"/><circle cx="384.56" cy="214.23" r="2.6"/><circle cx="378.94" cy="201.64" r="2.6"/><circle cx="385.84" cy="196.82" r="2.6"/><circle cx="404.80" cy="213.30" r="2.6"/><circle cx="394.92" cy="194.76" r="2.6"/><circle cx="398.58" cy="183.12" r="2.6"/><circle cx="402.32" cy="174.00" r="2.6"/><circle cx="418.39" cy="197.28" r="2.6"/><circle cx="412.58" cy="181.44" r="2.6"/><circle cx="418.65" cy="170.02" r="2.6"/><circle cx="423.82" cy="163.66" r="2.6"/><circle cx="433.82" cy="175.47" r="2.6"/><circle cx="459.75" cy="275.65" r="2.6"/><circle cx="451.47" cy="236.66" r="2.6"/><circle cx="454.79" cy="227.08" r="2.6"/><circle cx="474.36" cy="221.01" r="2.6"/><circle cx="473.69" cy="314.10" r="2.6"/><circle cx="493.94" cy="289.04" r="2.6"/><circle cx="505.29" cy="295.96" r="1.9"/><circle cx="512.69" cy="288.68" r="2.6"/><circle cx="518.55" cy="292.15" r="2.6"/><circle cx="510.72" cy="303.56" r="2.6"/><circle cx="514.70" cy="308.66" r="2.6"/><circle cx="515.86" cy="313.56" r="2.6"/><circle cx="515.77" cy="318.18" r="2.6"/><circle cx="515.58" cy="322.54" r="2.6"/><circle cx="472.72" cy="342.55" r="1.3"/><circle cx="491.06" cy="328.87" r="2.6"/><circle cx="501.23" cy="336.42" r="2.6"/><circle cx="468.14" cy="365.47" r="1.3"/><circle cx="501.89" cy="348.99" r="2.6"/><circle cx="491.41" cy="364.19" r="2.6"/><circle cx="495.22" cy="371.82" r="2.6"/><circle cx="399.56" cy="417.06" r="1.3"/><circle cx="297.46" cy="419.27" r="2.6"/><circle cx="275.45" cy="414.18" r="2.6"/><circle cx="277.50" cy="394.68" r="2.6"/><circle cx="269.88" cy="388.11" r="2.6"/><circle cx="268.59" cy="379.62" r="2.6"/><circle cx="256.28" cy="370.75" r="2.6"/><circle cx="257.64" cy="365.92" r="2.6"/><circle cx="249.46" cy="359.73" r="2.6"/><circle cx="247.31" cy="353.00" r="2.6"/><circle cx="243.88" cy="346.18" r="2.6"/><circle cx="246.56" cy="342.60" r="2.6"/><circle cx="241.78" cy="341.81" r="1.3"/><circle cx="239.47" cy="327.56" r="2.6"/><circle cx="237.96" cy="322.71" r="2.6"/><circle cx="233.66" cy="310.17" r="2.6"/><circle cx="237.83" cy="306.64" r="2.6"/><circle cx="234.87" cy="303.50" r="2.6"/><circle cx="232.66" cy="297.07" r="2.6"/><circle cx="235.62" cy="286.33" r="2.6"/><circle cx="234.40" cy="282.60" r="2.6"/><circle cx="234.37" cy="277.76" r="2.6"/><circle cx="238.42" cy="254.01" r="2.6"/><circle cx="334.06" cy="416.79" r="2.6"/><circle cx="349.18" cy="423.38" r="2.6"/><circle cx="366.75" cy="426.89" r="2.6"/><circle cx="376.31" cy="429.55" r="2.6"/><circle cx="387.69" cy="429.33" r="2.6"/><circle cx="401.84" cy="430.39" r="2.6"/><circle cx="408.51" cy="429.26" r="2.6"/><circle cx="414.80" cy="429.35" r="2.6"/><circle cx="419.28" cy="426.95" r="2.6"/><circle cx="430.32" cy="426.96" r="2.6"/><circle cx="434.68" cy="425.47" r="2.6"/><circle cx="449.80" cy="419.16" r="2.6"/><circle cx="453.68" cy="416.68" r="2.6"/><circle cx="460.19" cy="414.71" r="2.6"/><circle cx="470.99" cy="407.95" r="2.6"/><circle cx="475.58" cy="404.47" r="2.6"/><circle cx="476.09" cy="401.52" r="2.6"/><circle cx="490.78" cy="391.02" r="2.6"/><circle cx="498.04" cy="211.57" r="2.6"/><circle cx="498.06" cy="214.70" r="2.6"/><circle cx="505.23" cy="222.84" r="2.6"/><circle cx="509.17" cy="227.60" r="2.6"/><circle cx="511.51" cy="233.80" r="2.6"/><circle cx="515.06" cy="239.87" r="1.9"/><circle cx="517.71" cy="244.92" r="2.6"/><circle cx="523.16" cy="250.30" r="2.6"/><circle cx="522.25" cy="256.86" r="2.6"/><circle cx="523.85" cy="263.05" r="2.6"/><circle cx="446.43" cy="156.98" r="2.6"/><circle cx="453.26" cy="156.33" r="2.6"/><circle cx="466.38" cy="161.80" r="2.6"/></g>
<text transform="rotate(-28 395.30 290.50)" x="395.80" y="291.30" font-family="Liberation Sans, sans-serif" font-size="4.8" fill="#555">Pgt</text>
<text x="4.2" y="28.3" font-family="Liberation Sans, sans-serif" font-size="9.4" fill="#2b2b2b">Tree scale: 0.1</text>
<path d="M70.2,25H95.2M70.2,22.6V27.4M95.2,22.6V27.4M82.7,25V26.6" stroke="#111" stroke-width="1.3" fill="none"/>
<g font-family="Liberation Sans, sans-serif" font-size="9.0" fill="#2b2b2b"><rect x="-0.5" y="114.00" width="16.2" height="15.6" fill="#B2DF8A" stroke="rgba(0,0,0,0.45)" stroke-width="0.8"/><text x="19.6" y="124.90">European</text><rect x="-0.5" y="137.47" width="16.2" height="15.6" fill="#E31A1C" stroke="rgba(0,0,0,0.45)" stroke-width="0.8"/><text x="19.6" y="148.37">Durum</text><rect x="-0.5" y="160.94" width="16.2" height="15.6" fill="#F46D43" stroke="rgba(0,0,0,0.45)" stroke-width="0.8"/><text x="19.6" y="171.84">Middle East</text><rect x="-0.5" y="184.41" width="16.2" height="15.6" fill="#8C510A" stroke="rgba(0,0,0,0.45)" stroke-width="0.8"/><text x="19.6" y="195.31">North American 1</text><rect x="-0.5" y="207.88" width="16.2" height="15.6" fill="#D8B365" stroke="rgba(0,0,0,0.45)" stroke-width="0.8"/><text x="19.6" y="218.78">North American 2</text><rect x="-0.5" y="231.35" width="16.2" height="15.6" fill="#F6E8C3" stroke="rgba(0,0,0,0.45)" stroke-width="0.8"/><text x="19.6" y="242.25">North American 3</text><rect x="-0.5" y="254.82" width="16.2" height="15.6" fill="#FDB863" stroke="rgba(0,0,0,0.45)" stroke-width="0.8"/><text x="19.6" y="265.72">North American 4</text><rect x="-0.5" y="278.29" width="16.2" height="15.6" fill="#BF812D" stroke="rgba(0,0,0,0.45)" stroke-width="0.8"/><text x="19.6" y="289.19">North American 5</text><rect x="-0.5" y="301.76" width="16.2" height="15.6" fill="#E08214" stroke="rgba(0,0,0,0.45)" stroke-width="0.8"/><text x="19.6" y="312.66">North American 6</text><rect x="-0.5" y="325.23" width="16.2" height="15.6" fill="#DFC27D" stroke="rgba(0,0,0,0.45)" stroke-width="0.8"/><text x="19.6" y="336.13">North American 7</text><rect x="-0.5" y="348.70" width="16.2" height="15.6" fill="#9ECAE1" stroke="rgba(0,0,0,0.45)" stroke-width="0.8"/><text x="19.6" y="359.60">Australia AU1 (AB)</text><rect x="-0.5" y="372.17" width="16.2" height="15.6" fill="#C6DBEF" stroke="rgba(0,0,0,0.45)" stroke-width="0.8"/><text x="19.6" y="383.07">Australia AU2 (BC)</text><rect x="-0.5" y="395.64" width="16.2" height="15.6" fill="#4EB3D3" stroke="rgba(0,0,0,0.45)" stroke-width="0.8"/><text x="19.6" y="406.54">Australia AU3 (CD)</text><rect x="-0.5" y="419.11" width="16.2" height="15.6" fill="#80CDC1" stroke="rgba(0,0,0,0.45)" stroke-width="0.8"/><text x="19.6" y="430.01">Australia AU4</text><rect x="-0.5" y="442.58" width="16.2" height="15.6" fill="#2E83CC" stroke="rgba(0,0,0,0.45)" stroke-width="0.8"/><text x="19.6" y="453.48">Australia AU5</text><rect x="-0.5" y="466.05" width="16.2" height="15.6" fill="#FFFF99" stroke="rgba(0,0,0,0.45)" stroke-width="0.8"/><text x="19.6" y="476.95">Unassigned</text></g>
</svg></body></html>
